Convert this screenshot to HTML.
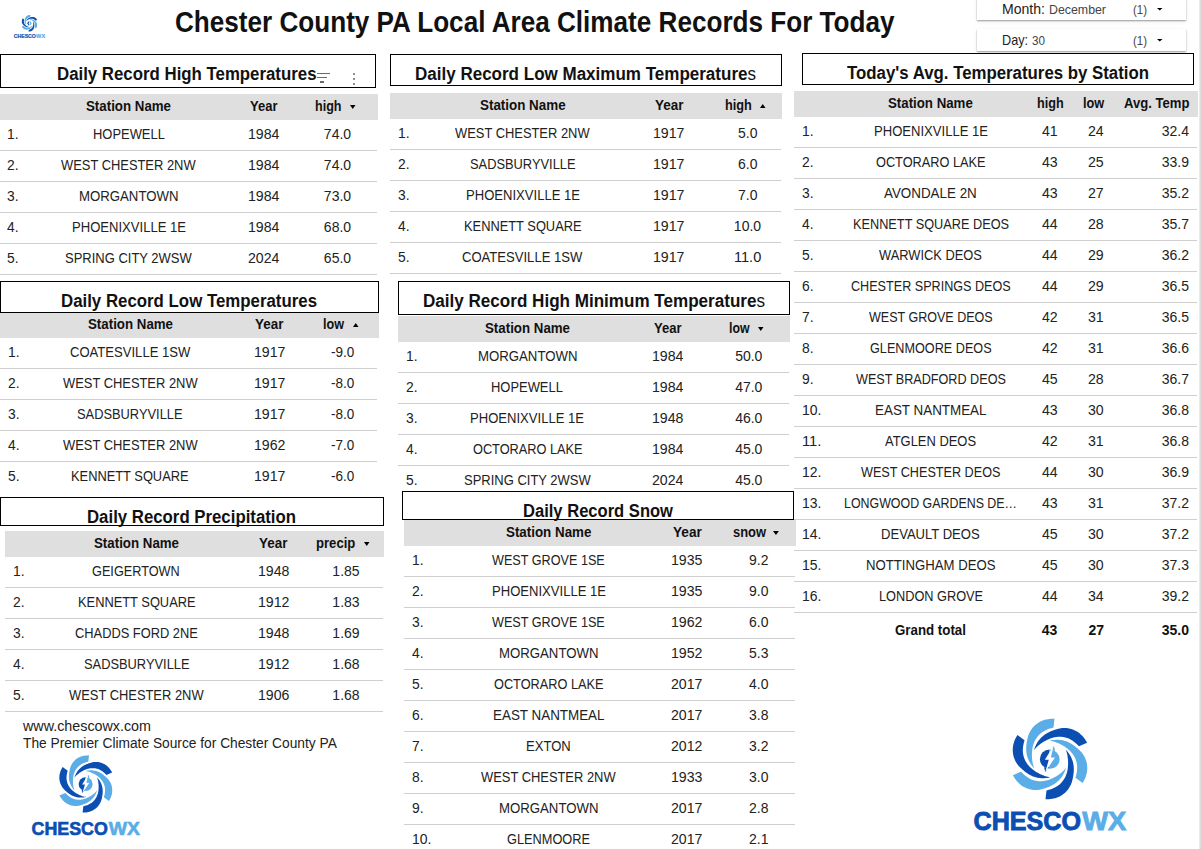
<!DOCTYPE html>
<html><head><meta charset="utf-8"><title>Chester County PA Local Area Climate Records</title>
<style>
html,body{margin:0;padding:0;background:#fff;}
body{width:1201px;height:849px;position:relative;overflow:hidden;font-family:"Liberation Sans",sans-serif;}
.t{position:absolute;white-space:nowrap;}
.r{position:absolute;}
svg.r{overflow:visible;}
</style></head><body>
<div class="t" style="left:175.00px;top:3.00px;font-size:29.00px;line-height:38px;font-weight:bold;color:#111;transform:scaleX(0.9002);transform-origin:0 0;">Chester County PA Local Area Climate Records For Today</div>
<div class="r" style="left:977px;top:-3px;width:209px;height:23px;background:#fff;box-shadow:0 1px 1.5px rgba(0,0,0,0.38),0 2px 6px rgba(0,0,0,0.06);"></div>
<div class="t" style="left:1001.50px;top:0.00px;font-size:14.50px;line-height:19px;color:#222;transform:scaleX(0.9700);transform-origin:0 0;">Month:</div>
<div class="t" style="left:1048.50px;top:2.00px;font-size:12.30px;line-height:16px;color:#444;transform:scaleX(1.0046);transform-origin:0 0;">December</div>
<div class="t" style="left:1133.00px;top:2.00px;font-size:12.50px;line-height:16px;color:#444;transform:scaleX(0.9164);transform-origin:0 0;">(1)</div>
<svg class="r" style="left:1157px;top:8px" width="5.5" height="2.5"><polygon points="0,0 5.5,0 2.75,2.5" fill="#000"/></svg>
<div class="r" style="left:977px;top:29px;width:209px;height:22px;background:#fff;box-shadow:0 1px 1.5px rgba(0,0,0,0.38),0 2px 6px rgba(0,0,0,0.06);"></div>
<div class="t" style="left:1001.50px;top:31.00px;font-size:14.50px;line-height:19px;color:#222;transform:scaleX(0.8721);transform-origin:0 0;">Day:</div>
<div class="t" style="left:1031.50px;top:33.00px;font-size:12.30px;line-height:16px;color:#444;transform:scaleX(0.9502);transform-origin:0 0;">30</div>
<div class="t" style="left:1133.00px;top:33.00px;font-size:12.50px;line-height:16px;color:#444;transform:scaleX(0.9164);transform-origin:0 0;">(1)</div>
<svg class="r" style="left:1157px;top:39px" width="5.5" height="2.5"><polygon points="0,0 5.5,0 2.75,2.5" fill="#000"/></svg>
<div class="r" style="left:0px;top:54px;width:376px;height:34px;border:1px solid #000;box-sizing:border-box;background:#fff;"></div>
<div class="r" style="left:-1px;top:94px;width:379px;height:26px;background:#dfdfdf;"></div>
<div class="t" style="left:86.00px;top:97.00px;font-size:14.00px;line-height:18px;font-weight:bold;color:#111;transform:scaleX(0.9501);transform-origin:0 0;">Station Name</div>
<div class="t" style="left:249.75px;top:97.00px;font-size:14.00px;line-height:18px;font-weight:bold;color:#111;transform:scaleX(0.9295);transform-origin:0 0;">Year</div>
<div class="t" style="left:315.00px;top:97.00px;font-size:14.00px;line-height:18px;font-weight:bold;color:#111;transform:scaleX(0.8970);transform-origin:0 0;">high</div>
<svg class="r" style="left:350px;top:105px" width="5.5" height="4"><polygon points="0,0 5.5,0 2.75,4" fill="#000"/></svg>
<div class="t" style="left:6.50px;top:125.00px;font-size:14.00px;line-height:18px;color:#222222;transform:scaleX(0.9889);transform-origin:0 0;">1.</div>
<div class="t" style="left:92.58px;top:125.00px;font-size:14.00px;line-height:18px;color:#222222;transform:scaleX(0.9234);transform-origin:0 0;">HOPEWELL</div>
<div class="t" style="left:247.78px;top:125.00px;font-size:14.00px;line-height:18px;color:#222222;transform:scaleX(1.0097);transform-origin:0 0;">1984</div>
<div class="t" style="left:323.87px;top:125.00px;font-size:14.00px;line-height:18px;color:#222222;">74.0</div>
<div class="r" style="left:0px;top:150px;width:377px;height:1px;background:#cfcfcf;"></div>
<div class="t" style="left:6.50px;top:156.00px;font-size:14.00px;line-height:18px;color:#222222;transform:scaleX(0.9889);transform-origin:0 0;">2.</div>
<div class="t" style="left:61.22px;top:156.00px;font-size:14.00px;line-height:18px;color:#222222;transform:scaleX(0.9218);transform-origin:0 0;">WEST CHESTER 2NW</div>
<div class="t" style="left:247.78px;top:156.00px;font-size:14.00px;line-height:18px;color:#222222;transform:scaleX(1.0097);transform-origin:0 0;">1984</div>
<div class="t" style="left:323.87px;top:156.00px;font-size:14.00px;line-height:18px;color:#222222;">74.0</div>
<div class="r" style="left:0px;top:181px;width:377px;height:1px;background:#cfcfcf;"></div>
<div class="t" style="left:6.50px;top:187.00px;font-size:14.00px;line-height:18px;color:#222222;transform:scaleX(0.9889);transform-origin:0 0;">3.</div>
<div class="t" style="left:78.75px;top:187.00px;font-size:14.00px;line-height:18px;color:#222222;transform:scaleX(0.9430);transform-origin:0 0;">MORGANTOWN</div>
<div class="t" style="left:247.78px;top:187.00px;font-size:14.00px;line-height:18px;color:#222222;transform:scaleX(1.0097);transform-origin:0 0;">1984</div>
<div class="t" style="left:323.87px;top:187.00px;font-size:14.00px;line-height:18px;color:#222222;">73.0</div>
<div class="r" style="left:0px;top:212px;width:377px;height:1px;background:#cfcfcf;"></div>
<div class="t" style="left:6.50px;top:218.00px;font-size:14.00px;line-height:18px;color:#222222;transform:scaleX(0.9889);transform-origin:0 0;">4.</div>
<div class="t" style="left:71.51px;top:218.00px;font-size:14.00px;line-height:18px;color:#222222;transform:scaleX(0.9330);transform-origin:0 0;">PHOENIXVILLE 1E</div>
<div class="t" style="left:247.78px;top:218.00px;font-size:14.00px;line-height:18px;color:#222222;transform:scaleX(1.0097);transform-origin:0 0;">1984</div>
<div class="t" style="left:323.87px;top:218.00px;font-size:14.00px;line-height:18px;color:#222222;">68.0</div>
<div class="r" style="left:0px;top:243px;width:377px;height:1px;background:#cfcfcf;"></div>
<div class="t" style="left:6.50px;top:249.00px;font-size:14.00px;line-height:18px;color:#222222;transform:scaleX(0.9889);transform-origin:0 0;">5.</div>
<div class="t" style="left:65.13px;top:249.00px;font-size:14.00px;line-height:18px;color:#222222;transform:scaleX(0.9275);transform-origin:0 0;">SPRING CITY 2WSW</div>
<div class="t" style="left:247.78px;top:249.00px;font-size:14.00px;line-height:18px;color:#222222;transform:scaleX(1.0097);transform-origin:0 0;">2024</div>
<div class="t" style="left:323.87px;top:249.00px;font-size:14.00px;line-height:18px;color:#222222;">65.0</div>
<div class="r" style="left:0px;top:274px;width:377px;height:1px;background:#cfcfcf;"></div>
<div class="t" style="left:57.25px;top:63.00px;font-size:17.50px;line-height:23px;font-weight:bold;color:#111;transform:scaleX(0.9610);transform-origin:0 0;">Daily Record High Temperatures</div>
<div class="r" style="left:317px;top:73.2px;width:12.8px;height:1.2px;background:#6a6a6a;"></div>
<div class="r" style="left:317px;top:77.2px;width:10.2px;height:1.2px;background:#6a6a6a;"></div>
<div class="r" style="left:320.3px;top:81.4px;width:3.5px;height:1.2px;background:#6a6a6a;"></div>
<div class="r" style="left:352.6px;top:72.6px;width:2.8px;height:2.8px;border-radius:50%;background:#6a6a6a"></div>
<div class="r" style="left:352.6px;top:77.6px;width:2.8px;height:2.8px;border-radius:50%;background:#6a6a6a"></div>
<div class="r" style="left:352.6px;top:82.6px;width:2.8px;height:2.8px;border-radius:50%;background:#6a6a6a"></div>
<div class="r" style="left:390px;top:54px;width:392px;height:32px;border:1px solid #000;box-sizing:border-box;background:#fff;"></div>
<div class="r" style="left:390px;top:93px;width:392px;height:26px;background:#dfdfdf;"></div>
<div class="t" style="left:479.70px;top:96.00px;font-size:14.00px;line-height:18px;font-weight:bold;color:#111;transform:scaleX(0.9568);transform-origin:0 0;">Station Name</div>
<div class="t" style="left:654.95px;top:96.00px;font-size:14.00px;line-height:18px;font-weight:bold;color:#111;transform:scaleX(0.9633);transform-origin:0 0;">Year</div>
<div class="t" style="left:724.60px;top:96.00px;font-size:14.00px;line-height:18px;font-weight:bold;color:#111;transform:scaleX(0.9105);transform-origin:0 0;">high</div>
<svg class="r" style="left:759.5px;top:104px" width="5.5" height="4"><polygon points="0,4 2.75,0 5.5,4" fill="#000"/></svg>
<div class="t" style="left:397.50px;top:124.00px;font-size:14.00px;line-height:18px;color:#222222;transform:scaleX(0.9889);transform-origin:0 0;">1.</div>
<div class="t" style="left:455.22px;top:124.00px;font-size:14.00px;line-height:18px;color:#222222;transform:scaleX(0.9218);transform-origin:0 0;">WEST CHESTER 2NW</div>
<div class="t" style="left:653.48px;top:124.00px;font-size:14.00px;line-height:18px;color:#222222;transform:scaleX(1.0097);transform-origin:0 0;">1917</div>
<div class="t" style="left:737.80px;top:124.00px;font-size:14.00px;line-height:18px;color:#222222;transform:scaleX(0.9972);transform-origin:0 0;">5.0</div>
<div class="r" style="left:390px;top:149px;width:391px;height:1px;background:#cfcfcf;"></div>
<div class="t" style="left:397.50px;top:155.00px;font-size:14.00px;line-height:18px;color:#222222;transform:scaleX(0.9889);transform-origin:0 0;">2.</div>
<div class="t" style="left:469.74px;top:155.00px;font-size:14.00px;line-height:18px;color:#222222;transform:scaleX(0.9184);transform-origin:0 0;">SADSBURYVILLE</div>
<div class="t" style="left:653.48px;top:155.00px;font-size:14.00px;line-height:18px;color:#222222;transform:scaleX(1.0097);transform-origin:0 0;">1917</div>
<div class="t" style="left:737.80px;top:155.00px;font-size:14.00px;line-height:18px;color:#222222;transform:scaleX(0.9972);transform-origin:0 0;">6.0</div>
<div class="r" style="left:390px;top:180px;width:391px;height:1px;background:#cfcfcf;"></div>
<div class="t" style="left:397.50px;top:186.00px;font-size:14.00px;line-height:18px;color:#222222;transform:scaleX(0.9889);transform-origin:0 0;">3.</div>
<div class="t" style="left:465.51px;top:186.00px;font-size:14.00px;line-height:18px;color:#222222;transform:scaleX(0.9330);transform-origin:0 0;">PHOENIXVILLE 1E</div>
<div class="t" style="left:653.48px;top:186.00px;font-size:14.00px;line-height:18px;color:#222222;transform:scaleX(1.0097);transform-origin:0 0;">1917</div>
<div class="t" style="left:737.80px;top:186.00px;font-size:14.00px;line-height:18px;color:#222222;transform:scaleX(0.9972);transform-origin:0 0;">7.0</div>
<div class="r" style="left:390px;top:211px;width:391px;height:1px;background:#cfcfcf;"></div>
<div class="t" style="left:397.50px;top:217.00px;font-size:14.00px;line-height:18px;color:#222222;transform:scaleX(0.9889);transform-origin:0 0;">4.</div>
<div class="t" style="left:463.72px;top:217.00px;font-size:14.00px;line-height:18px;color:#222222;transform:scaleX(0.9178);transform-origin:0 0;">KENNETT SQUARE</div>
<div class="t" style="left:653.48px;top:217.00px;font-size:14.00px;line-height:18px;color:#222222;transform:scaleX(1.0097);transform-origin:0 0;">1917</div>
<div class="t" style="left:733.87px;top:217.00px;font-size:14.00px;line-height:18px;color:#222222;">10.0</div>
<div class="r" style="left:390px;top:242px;width:391px;height:1px;background:#cfcfcf;"></div>
<div class="t" style="left:397.50px;top:248.00px;font-size:14.00px;line-height:18px;color:#222222;transform:scaleX(0.9889);transform-origin:0 0;">5.</div>
<div class="t" style="left:462.34px;top:248.00px;font-size:14.00px;line-height:18px;color:#222222;transform:scaleX(0.9335);transform-origin:0 0;">COATESVILLE 1SW</div>
<div class="t" style="left:653.48px;top:248.00px;font-size:14.00px;line-height:18px;color:#222222;transform:scaleX(1.0097);transform-origin:0 0;">1917</div>
<div class="t" style="left:733.87px;top:248.00px;font-size:14.00px;line-height:18px;color:#222222;transform:scaleX(1.0404);transform-origin:0 0;">11.0</div>
<div class="r" style="left:390px;top:273px;width:391px;height:1px;background:#cfcfcf;"></div>
<div class="t" style="left:415.00px;top:63.00px;font-size:17.50px;line-height:23px;color:#111;transform:scaleX(0.9722);transform-origin:0 0"><b>Daily Record Low Maximum Temperature</b>s</div>
<div class="r" style="left:0px;top:281px;width:379px;height:32px;border:1px solid #000;box-sizing:border-box;background:#fff;"></div>
<div class="r" style="left:0px;top:313px;width:379px;height:25px;background:#dfdfdf;"></div>
<div class="t" style="left:87.50px;top:315.00px;font-size:14.00px;line-height:18px;font-weight:bold;color:#111;transform:scaleX(0.9501);transform-origin:0 0;">Station Name</div>
<div class="t" style="left:255.40px;top:315.00px;font-size:14.00px;line-height:18px;font-weight:bold;color:#111;transform:scaleX(0.9599);transform-origin:0 0;">Year</div>
<div class="t" style="left:323.00px;top:315.00px;font-size:14.00px;line-height:18px;font-weight:bold;color:#111;transform:scaleX(0.9001);transform-origin:0 0;">low</div>
<svg class="r" style="left:353px;top:323px" width="5.5" height="4"><polygon points="0,4 2.75,0 5.5,4" fill="#000"/></svg>
<div class="t" style="left:7.50px;top:343.00px;font-size:14.00px;line-height:18px;color:#222222;transform:scaleX(0.9889);transform-origin:0 0;">1.</div>
<div class="t" style="left:69.84px;top:343.00px;font-size:14.00px;line-height:18px;color:#222222;transform:scaleX(0.9335);transform-origin:0 0;">COATESVILLE 1SW</div>
<div class="t" style="left:253.88px;top:343.00px;font-size:14.00px;line-height:18px;color:#222222;transform:scaleX(1.0097);transform-origin:0 0;">1917</div>
<div class="t" style="left:331.37px;top:343.00px;font-size:14.00px;line-height:18px;color:#222222;transform:scaleX(0.9646);transform-origin:0 0;">-9.0</div>
<div class="r" style="left:0px;top:368px;width:377px;height:1px;background:#cfcfcf;"></div>
<div class="t" style="left:7.50px;top:374.00px;font-size:14.00px;line-height:18px;color:#222222;transform:scaleX(0.9889);transform-origin:0 0;">2.</div>
<div class="t" style="left:62.72px;top:374.00px;font-size:14.00px;line-height:18px;color:#222222;transform:scaleX(0.9218);transform-origin:0 0;">WEST CHESTER 2NW</div>
<div class="t" style="left:253.88px;top:374.00px;font-size:14.00px;line-height:18px;color:#222222;transform:scaleX(1.0097);transform-origin:0 0;">1917</div>
<div class="t" style="left:331.37px;top:374.00px;font-size:14.00px;line-height:18px;color:#222222;transform:scaleX(0.9646);transform-origin:0 0;">-8.0</div>
<div class="r" style="left:0px;top:399px;width:377px;height:1px;background:#cfcfcf;"></div>
<div class="t" style="left:7.50px;top:405.00px;font-size:14.00px;line-height:18px;color:#222222;transform:scaleX(0.9889);transform-origin:0 0;">3.</div>
<div class="t" style="left:77.24px;top:405.00px;font-size:14.00px;line-height:18px;color:#222222;transform:scaleX(0.9184);transform-origin:0 0;">SADSBURYVILLE</div>
<div class="t" style="left:253.88px;top:405.00px;font-size:14.00px;line-height:18px;color:#222222;transform:scaleX(1.0097);transform-origin:0 0;">1917</div>
<div class="t" style="left:331.37px;top:405.00px;font-size:14.00px;line-height:18px;color:#222222;transform:scaleX(0.9646);transform-origin:0 0;">-8.0</div>
<div class="r" style="left:0px;top:430px;width:377px;height:1px;background:#cfcfcf;"></div>
<div class="t" style="left:7.50px;top:436.00px;font-size:14.00px;line-height:18px;color:#222222;transform:scaleX(0.9889);transform-origin:0 0;">4.</div>
<div class="t" style="left:62.72px;top:436.00px;font-size:14.00px;line-height:18px;color:#222222;transform:scaleX(0.9218);transform-origin:0 0;">WEST CHESTER 2NW</div>
<div class="t" style="left:253.88px;top:436.00px;font-size:14.00px;line-height:18px;color:#222222;transform:scaleX(1.0097);transform-origin:0 0;">1962</div>
<div class="t" style="left:331.37px;top:436.00px;font-size:14.00px;line-height:18px;color:#222222;transform:scaleX(0.9646);transform-origin:0 0;">-7.0</div>
<div class="r" style="left:0px;top:461px;width:377px;height:1px;background:#cfcfcf;"></div>
<div class="t" style="left:7.50px;top:467.00px;font-size:14.00px;line-height:18px;color:#222222;transform:scaleX(0.9889);transform-origin:0 0;">5.</div>
<div class="t" style="left:71.22px;top:467.00px;font-size:14.00px;line-height:18px;color:#222222;transform:scaleX(0.9178);transform-origin:0 0;">KENNETT SQUARE</div>
<div class="t" style="left:253.88px;top:467.00px;font-size:14.00px;line-height:18px;color:#222222;transform:scaleX(1.0097);transform-origin:0 0;">1917</div>
<div class="t" style="left:331.37px;top:467.00px;font-size:14.00px;line-height:18px;color:#222222;transform:scaleX(0.9646);transform-origin:0 0;">-6.0</div>
<div class="t" style="left:61.00px;top:290.00px;font-size:17.50px;line-height:23px;font-weight:bold;color:#111;transform:scaleX(0.9619);transform-origin:0 0;">Daily Record Low Temperatures</div>
<div class="r" style="left:398px;top:281px;width:392px;height:34px;border:1px solid #000;box-sizing:border-box;background:#fff;"></div>
<div class="r" style="left:398px;top:316px;width:392px;height:26px;background:#dfdfdf;"></div>
<div class="t" style="left:484.90px;top:319.00px;font-size:14.00px;line-height:18px;font-weight:bold;color:#111;transform:scaleX(0.9501);transform-origin:0 0;">Station Name</div>
<div class="t" style="left:653.60px;top:319.00px;font-size:14.00px;line-height:18px;font-weight:bold;color:#111;transform:scaleX(0.9329);transform-origin:0 0;">Year</div>
<div class="t" style="left:728.70px;top:319.00px;font-size:14.00px;line-height:18px;font-weight:bold;color:#111;transform:scaleX(0.8786);transform-origin:0 0;">low</div>
<svg class="r" style="left:758px;top:327px" width="5.5" height="4"><polygon points="0,0 5.5,0 2.75,4" fill="#000"/></svg>
<div class="t" style="left:405.50px;top:347.00px;font-size:14.00px;line-height:18px;color:#222222;transform:scaleX(0.9889);transform-origin:0 0;">1.</div>
<div class="t" style="left:477.65px;top:347.00px;font-size:14.00px;line-height:18px;color:#222222;transform:scaleX(0.9430);transform-origin:0 0;">MORGANTOWN</div>
<div class="t" style="left:651.78px;top:347.00px;font-size:14.00px;line-height:18px;color:#222222;transform:scaleX(1.0097);transform-origin:0 0;">1984</div>
<div class="t" style="left:735.17px;top:347.00px;font-size:14.00px;line-height:18px;color:#222222;">50.0</div>
<div class="r" style="left:398px;top:372px;width:391px;height:1px;background:#cfcfcf;"></div>
<div class="t" style="left:405.50px;top:378.00px;font-size:14.00px;line-height:18px;color:#222222;transform:scaleX(0.9889);transform-origin:0 0;">2.</div>
<div class="t" style="left:491.48px;top:378.00px;font-size:14.00px;line-height:18px;color:#222222;transform:scaleX(0.9234);transform-origin:0 0;">HOPEWELL</div>
<div class="t" style="left:651.78px;top:378.00px;font-size:14.00px;line-height:18px;color:#222222;transform:scaleX(1.0097);transform-origin:0 0;">1984</div>
<div class="t" style="left:735.17px;top:378.00px;font-size:14.00px;line-height:18px;color:#222222;">47.0</div>
<div class="r" style="left:398px;top:403px;width:391px;height:1px;background:#cfcfcf;"></div>
<div class="t" style="left:405.50px;top:409.00px;font-size:14.00px;line-height:18px;color:#222222;transform:scaleX(0.9889);transform-origin:0 0;">3.</div>
<div class="t" style="left:470.41px;top:409.00px;font-size:14.00px;line-height:18px;color:#222222;transform:scaleX(0.9330);transform-origin:0 0;">PHOENIXVILLE 1E</div>
<div class="t" style="left:651.78px;top:409.00px;font-size:14.00px;line-height:18px;color:#222222;transform:scaleX(1.0097);transform-origin:0 0;">1948</div>
<div class="t" style="left:735.17px;top:409.00px;font-size:14.00px;line-height:18px;color:#222222;">46.0</div>
<div class="r" style="left:398px;top:434px;width:391px;height:1px;background:#cfcfcf;"></div>
<div class="t" style="left:405.50px;top:440.00px;font-size:14.00px;line-height:18px;color:#222222;transform:scaleX(0.9889);transform-origin:0 0;">4.</div>
<div class="t" style="left:472.61px;top:440.00px;font-size:14.00px;line-height:18px;color:#222222;transform:scaleX(0.9107);transform-origin:0 0;">OCTORARO LAKE</div>
<div class="t" style="left:651.78px;top:440.00px;font-size:14.00px;line-height:18px;color:#222222;transform:scaleX(1.0097);transform-origin:0 0;">1984</div>
<div class="t" style="left:735.17px;top:440.00px;font-size:14.00px;line-height:18px;color:#222222;">45.0</div>
<div class="r" style="left:398px;top:465px;width:391px;height:1px;background:#cfcfcf;"></div>
<div class="t" style="left:405.50px;top:471.00px;font-size:14.00px;line-height:18px;color:#222222;transform:scaleX(0.9889);transform-origin:0 0;">5.</div>
<div class="t" style="left:464.03px;top:471.00px;font-size:14.00px;line-height:18px;color:#222222;transform:scaleX(0.9275);transform-origin:0 0;">SPRING CITY 2WSW</div>
<div class="t" style="left:651.78px;top:471.00px;font-size:14.00px;line-height:18px;color:#222222;transform:scaleX(1.0097);transform-origin:0 0;">2024</div>
<div class="t" style="left:735.17px;top:471.00px;font-size:14.00px;line-height:18px;color:#222222;">45.0</div>
<div class="t" style="left:422.50px;top:290.00px;font-size:17.50px;line-height:23px;color:#111;transform:scaleX(0.9752);transform-origin:0 0"><b>Daily Record High Minimum Temperature</b>s</div>
<div class="r" style="left:0px;top:497px;width:384px;height:29px;border:1px solid #000;box-sizing:border-box;background:#fff;"></div>
<div class="r" style="left:5px;top:531px;width:379px;height:26px;background:#dfdfdf;"></div>
<div class="t" style="left:93.90px;top:534.00px;font-size:14.00px;line-height:18px;font-weight:bold;color:#111;transform:scaleX(0.9501);transform-origin:0 0;">Station Name</div>
<div class="t" style="left:259.00px;top:534.00px;font-size:14.00px;line-height:18px;font-weight:bold;color:#111;transform:scaleX(0.9599);transform-origin:0 0;">Year</div>
<div class="t" style="left:316.40px;top:534.00px;font-size:14.00px;line-height:18px;font-weight:bold;color:#111;transform:scaleX(0.9354);transform-origin:0 0;">precip</div>
<svg class="r" style="left:363.7px;top:542px" width="5.5" height="4"><polygon points="0,0 5.5,0 2.75,4" fill="#000"/></svg>
<div class="t" style="left:12.50px;top:562.00px;font-size:14.00px;line-height:18px;color:#222222;transform:scaleX(0.9889);transform-origin:0 0;">1.</div>
<div class="t" style="left:92.40px;top:562.00px;font-size:14.00px;line-height:18px;color:#222222;transform:scaleX(0.9078);transform-origin:0 0;">GEIGERTOWN</div>
<div class="t" style="left:257.78px;top:562.00px;font-size:14.00px;line-height:18px;color:#222222;transform:scaleX(1.0097);transform-origin:0 0;">1948</div>
<div class="t" style="left:332.37px;top:562.00px;font-size:14.00px;line-height:18px;color:#222222;">1.85</div>
<div class="r" style="left:5px;top:587px;width:378px;height:1px;background:#cfcfcf;"></div>
<div class="t" style="left:12.50px;top:593.00px;font-size:14.00px;line-height:18px;color:#222222;transform:scaleX(0.9889);transform-origin:0 0;">2.</div>
<div class="t" style="left:77.52px;top:593.00px;font-size:14.00px;line-height:18px;color:#222222;transform:scaleX(0.9178);transform-origin:0 0;">KENNETT SQUARE</div>
<div class="t" style="left:257.78px;top:593.00px;font-size:14.00px;line-height:18px;color:#222222;transform:scaleX(1.0097);transform-origin:0 0;">1912</div>
<div class="t" style="left:332.37px;top:593.00px;font-size:14.00px;line-height:18px;color:#222222;">1.83</div>
<div class="r" style="left:5px;top:618px;width:378px;height:1px;background:#cfcfcf;"></div>
<div class="t" style="left:12.50px;top:624.00px;font-size:14.00px;line-height:18px;color:#222222;transform:scaleX(0.9889);transform-origin:0 0;">3.</div>
<div class="t" style="left:74.90px;top:624.00px;font-size:14.00px;line-height:18px;color:#222222;transform:scaleX(0.9179);transform-origin:0 0;">CHADDS FORD 2NE</div>
<div class="t" style="left:257.78px;top:624.00px;font-size:14.00px;line-height:18px;color:#222222;transform:scaleX(1.0097);transform-origin:0 0;">1948</div>
<div class="t" style="left:332.37px;top:624.00px;font-size:14.00px;line-height:18px;color:#222222;">1.69</div>
<div class="r" style="left:5px;top:649px;width:378px;height:1px;background:#cfcfcf;"></div>
<div class="t" style="left:12.50px;top:655.00px;font-size:14.00px;line-height:18px;color:#222222;transform:scaleX(0.9889);transform-origin:0 0;">4.</div>
<div class="t" style="left:83.54px;top:655.00px;font-size:14.00px;line-height:18px;color:#222222;transform:scaleX(0.9184);transform-origin:0 0;">SADSBURYVILLE</div>
<div class="t" style="left:257.78px;top:655.00px;font-size:14.00px;line-height:18px;color:#222222;transform:scaleX(1.0097);transform-origin:0 0;">1912</div>
<div class="t" style="left:332.37px;top:655.00px;font-size:14.00px;line-height:18px;color:#222222;">1.68</div>
<div class="r" style="left:5px;top:680px;width:378px;height:1px;background:#cfcfcf;"></div>
<div class="t" style="left:12.50px;top:686.00px;font-size:14.00px;line-height:18px;color:#222222;transform:scaleX(0.9889);transform-origin:0 0;">5.</div>
<div class="t" style="left:69.02px;top:686.00px;font-size:14.00px;line-height:18px;color:#222222;transform:scaleX(0.9218);transform-origin:0 0;">WEST CHESTER 2NW</div>
<div class="t" style="left:257.78px;top:686.00px;font-size:14.00px;line-height:18px;color:#222222;transform:scaleX(1.0097);transform-origin:0 0;">1906</div>
<div class="t" style="left:332.37px;top:686.00px;font-size:14.00px;line-height:18px;color:#222222;">1.68</div>
<div class="r" style="left:5px;top:711px;width:378px;height:1px;background:#cfcfcf;"></div>
<div class="t" style="left:86.50px;top:506.00px;font-size:17.50px;line-height:23px;font-weight:bold;color:#111;transform:scaleX(0.9594);transform-origin:0 0;">Daily Record Precipitation</div>
<div class="r" style="left:402px;top:491px;width:392px;height:29px;border:1px solid #000;box-sizing:border-box;background:#fff;"></div>
<div class="r" style="left:404px;top:520px;width:392px;height:26px;background:#dfdfdf;"></div>
<div class="t" style="left:505.70px;top:523.00px;font-size:14.00px;line-height:18px;font-weight:bold;color:#111;transform:scaleX(0.9546);transform-origin:0 0;">Station Name</div>
<div class="t" style="left:672.60px;top:523.00px;font-size:14.00px;line-height:18px;font-weight:bold;color:#111;transform:scaleX(0.9734);transform-origin:0 0;">Year</div>
<div class="t" style="left:732.80px;top:523.00px;font-size:14.00px;line-height:18px;font-weight:bold;color:#111;transform:scaleX(0.9223);transform-origin:0 0;">snow</div>
<svg class="r" style="left:773.4px;top:531px" width="5.9" height="4"><polygon points="0,0 5.9,0 2.95,4" fill="#000"/></svg>
<div class="t" style="left:411.50px;top:551.00px;font-size:14.00px;line-height:18px;color:#222222;transform:scaleX(0.9889);transform-origin:0 0;">1.</div>
<div class="t" style="left:492.11px;top:551.00px;font-size:14.00px;line-height:18px;color:#222222;transform:scaleX(0.9023);transform-origin:0 0;">WEST GROVE 1SE</div>
<div class="t" style="left:671.48px;top:551.00px;font-size:14.00px;line-height:18px;color:#222222;transform:scaleX(1.0097);transform-origin:0 0;">1935</div>
<div class="t" style="left:749.10px;top:551.00px;font-size:14.00px;line-height:18px;color:#222222;transform:scaleX(0.9972);transform-origin:0 0;">9.2</div>
<div class="r" style="left:404px;top:576px;width:391px;height:1px;background:#cfcfcf;"></div>
<div class="t" style="left:411.50px;top:582.00px;font-size:14.00px;line-height:18px;color:#222222;transform:scaleX(0.9889);transform-origin:0 0;">2.</div>
<div class="t" style="left:491.51px;top:582.00px;font-size:14.00px;line-height:18px;color:#222222;transform:scaleX(0.9330);transform-origin:0 0;">PHOENIXVILLE 1E</div>
<div class="t" style="left:671.48px;top:582.00px;font-size:14.00px;line-height:18px;color:#222222;transform:scaleX(1.0097);transform-origin:0 0;">1935</div>
<div class="t" style="left:749.10px;top:582.00px;font-size:14.00px;line-height:18px;color:#222222;transform:scaleX(0.9972);transform-origin:0 0;">9.0</div>
<div class="r" style="left:404px;top:607px;width:391px;height:1px;background:#cfcfcf;"></div>
<div class="t" style="left:411.50px;top:613.00px;font-size:14.00px;line-height:18px;color:#222222;transform:scaleX(0.9889);transform-origin:0 0;">3.</div>
<div class="t" style="left:492.11px;top:613.00px;font-size:14.00px;line-height:18px;color:#222222;transform:scaleX(0.9023);transform-origin:0 0;">WEST GROVE 1SE</div>
<div class="t" style="left:671.48px;top:613.00px;font-size:14.00px;line-height:18px;color:#222222;transform:scaleX(1.0097);transform-origin:0 0;">1962</div>
<div class="t" style="left:749.10px;top:613.00px;font-size:14.00px;line-height:18px;color:#222222;transform:scaleX(0.9972);transform-origin:0 0;">6.0</div>
<div class="r" style="left:404px;top:638px;width:391px;height:1px;background:#cfcfcf;"></div>
<div class="t" style="left:411.50px;top:644.00px;font-size:14.00px;line-height:18px;color:#222222;transform:scaleX(0.9889);transform-origin:0 0;">4.</div>
<div class="t" style="left:498.75px;top:644.00px;font-size:14.00px;line-height:18px;color:#222222;transform:scaleX(0.9430);transform-origin:0 0;">MORGANTOWN</div>
<div class="t" style="left:671.48px;top:644.00px;font-size:14.00px;line-height:18px;color:#222222;transform:scaleX(1.0097);transform-origin:0 0;">1952</div>
<div class="t" style="left:749.10px;top:644.00px;font-size:14.00px;line-height:18px;color:#222222;transform:scaleX(0.9972);transform-origin:0 0;">5.3</div>
<div class="r" style="left:404px;top:669px;width:391px;height:1px;background:#cfcfcf;"></div>
<div class="t" style="left:411.50px;top:675.00px;font-size:14.00px;line-height:18px;color:#222222;transform:scaleX(0.9889);transform-origin:0 0;">5.</div>
<div class="t" style="left:493.71px;top:675.00px;font-size:14.00px;line-height:18px;color:#222222;transform:scaleX(0.9107);transform-origin:0 0;">OCTORARO LAKE</div>
<div class="t" style="left:671.48px;top:675.00px;font-size:14.00px;line-height:18px;color:#222222;transform:scaleX(1.0097);transform-origin:0 0;">2017</div>
<div class="t" style="left:749.10px;top:675.00px;font-size:14.00px;line-height:18px;color:#222222;transform:scaleX(0.9972);transform-origin:0 0;">4.0</div>
<div class="r" style="left:404px;top:700px;width:391px;height:1px;background:#cfcfcf;"></div>
<div class="t" style="left:411.50px;top:706.00px;font-size:14.00px;line-height:18px;color:#222222;transform:scaleX(0.9889);transform-origin:0 0;">6.</div>
<div class="t" style="left:492.74px;top:706.00px;font-size:14.00px;line-height:18px;color:#222222;transform:scaleX(0.9578);transform-origin:0 0;">EAST NANTMEAL</div>
<div class="t" style="left:671.48px;top:706.00px;font-size:14.00px;line-height:18px;color:#222222;transform:scaleX(1.0097);transform-origin:0 0;">2017</div>
<div class="t" style="left:749.10px;top:706.00px;font-size:14.00px;line-height:18px;color:#222222;transform:scaleX(0.9972);transform-origin:0 0;">3.8</div>
<div class="r" style="left:404px;top:731px;width:391px;height:1px;background:#cfcfcf;"></div>
<div class="t" style="left:411.50px;top:737.00px;font-size:14.00px;line-height:18px;color:#222222;transform:scaleX(0.9889);transform-origin:0 0;">7.</div>
<div class="t" style="left:526.15px;top:737.00px;font-size:14.00px;line-height:18px;color:#222222;transform:scaleX(0.9316);transform-origin:0 0;">EXTON</div>
<div class="t" style="left:671.48px;top:737.00px;font-size:14.00px;line-height:18px;color:#222222;transform:scaleX(1.0097);transform-origin:0 0;">2012</div>
<div class="t" style="left:749.10px;top:737.00px;font-size:14.00px;line-height:18px;color:#222222;transform:scaleX(0.9972);transform-origin:0 0;">3.2</div>
<div class="r" style="left:404px;top:762px;width:391px;height:1px;background:#cfcfcf;"></div>
<div class="t" style="left:411.50px;top:768.00px;font-size:14.00px;line-height:18px;color:#222222;transform:scaleX(0.9889);transform-origin:0 0;">8.</div>
<div class="t" style="left:481.22px;top:768.00px;font-size:14.00px;line-height:18px;color:#222222;transform:scaleX(0.9218);transform-origin:0 0;">WEST CHESTER 2NW</div>
<div class="t" style="left:671.48px;top:768.00px;font-size:14.00px;line-height:18px;color:#222222;transform:scaleX(1.0097);transform-origin:0 0;">1933</div>
<div class="t" style="left:749.10px;top:768.00px;font-size:14.00px;line-height:18px;color:#222222;transform:scaleX(0.9972);transform-origin:0 0;">3.0</div>
<div class="r" style="left:404px;top:793px;width:391px;height:1px;background:#cfcfcf;"></div>
<div class="t" style="left:411.50px;top:799.00px;font-size:14.00px;line-height:18px;color:#222222;transform:scaleX(0.9889);transform-origin:0 0;">9.</div>
<div class="t" style="left:498.75px;top:799.00px;font-size:14.00px;line-height:18px;color:#222222;transform:scaleX(0.9430);transform-origin:0 0;">MORGANTOWN</div>
<div class="t" style="left:671.48px;top:799.00px;font-size:14.00px;line-height:18px;color:#222222;transform:scaleX(1.0097);transform-origin:0 0;">2017</div>
<div class="t" style="left:749.10px;top:799.00px;font-size:14.00px;line-height:18px;color:#222222;transform:scaleX(0.9972);transform-origin:0 0;">2.8</div>
<div class="r" style="left:404px;top:824px;width:391px;height:1px;background:#cfcfcf;"></div>
<div class="t" style="left:411.50px;top:830.00px;font-size:14.00px;line-height:18px;color:#222222;transform:scaleX(0.9972);transform-origin:0 0;">10.</div>
<div class="t" style="left:506.97px;top:830.00px;font-size:14.00px;line-height:18px;color:#222222;transform:scaleX(0.9126);transform-origin:0 0;">GLENMOORE</div>
<div class="t" style="left:671.48px;top:830.00px;font-size:14.00px;line-height:18px;color:#222222;transform:scaleX(1.0097);transform-origin:0 0;">2017</div>
<div class="t" style="left:749.10px;top:830.00px;font-size:14.00px;line-height:18px;color:#222222;transform:scaleX(0.9972);transform-origin:0 0;">2.1</div>
<div class="r" style="left:404px;top:855px;width:391px;height:1px;background:#cfcfcf;"></div>
<div class="t" style="left:522.60px;top:500.00px;font-size:17.50px;line-height:23px;font-weight:bold;color:#111;transform:scaleX(0.9463);transform-origin:0 0;">Daily Record Snow</div>
<div class="r" style="left:802px;top:53px;width:392px;height:32px;border:1px solid #000;box-sizing:border-box;background:#fff;"></div>
<div class="r" style="left:794px;top:91px;width:404px;height:26px;background:#dfdfdf;"></div>
<div class="t" style="left:888.20px;top:94.00px;font-size:14.00px;line-height:18px;font-weight:bold;color:#111;transform:scaleX(0.9479);transform-origin:0 0;">Station Name</div>
<div class="t" style="left:1036.65px;top:94.00px;font-size:14.00px;line-height:18px;font-weight:bold;color:#111;transform:scaleX(0.9037);transform-origin:0 0;">high</div>
<div class="t" style="left:1082.50px;top:94.00px;font-size:14.00px;line-height:18px;font-weight:bold;color:#111;transform:scaleX(0.9087);transform-origin:0 0;">low</div>
<div class="t" style="left:1123.50px;top:94.00px;font-size:14.00px;line-height:18px;font-weight:bold;color:#111;transform:scaleX(0.9356);transform-origin:0 0;">Avg. Temp</div>
<div class="t" style="left:801.50px;top:122.00px;font-size:14.00px;line-height:18px;color:#222222;transform:scaleX(0.9889);transform-origin:0 0;">1.</div>
<div class="t" style="left:873.81px;top:122.00px;font-size:14.00px;line-height:18px;color:#222222;transform:scaleX(0.9330);transform-origin:0 0;">PHOENIXVILLE 1E</div>
<div class="t" style="left:1041.64px;top:122.00px;font-size:14.00px;line-height:18px;color:#222222;transform:scaleX(1.0097);transform-origin:0 0;">41</div>
<div class="t" style="left:1088.44px;top:122.00px;font-size:14.00px;line-height:18px;color:#222222;transform:scaleX(1.0097);transform-origin:0 0;">24</div>
<div class="t" style="left:1161.73px;top:122.00px;font-size:14.00px;line-height:18px;color:#222222;">32.4</div>
<div class="r" style="left:794px;top:147px;width:403px;height:1px;background:#cfcfcf;"></div>
<div class="t" style="left:801.50px;top:153.00px;font-size:14.00px;line-height:18px;color:#222222;transform:scaleX(0.9889);transform-origin:0 0;">2.</div>
<div class="t" style="left:876.01px;top:153.00px;font-size:14.00px;line-height:18px;color:#222222;transform:scaleX(0.9107);transform-origin:0 0;">OCTORARO LAKE</div>
<div class="t" style="left:1041.64px;top:153.00px;font-size:14.00px;line-height:18px;color:#222222;transform:scaleX(1.0097);transform-origin:0 0;">43</div>
<div class="t" style="left:1088.44px;top:153.00px;font-size:14.00px;line-height:18px;color:#222222;transform:scaleX(1.0097);transform-origin:0 0;">25</div>
<div class="t" style="left:1161.73px;top:153.00px;font-size:14.00px;line-height:18px;color:#222222;">33.9</div>
<div class="r" style="left:794px;top:178px;width:403px;height:1px;background:#cfcfcf;"></div>
<div class="t" style="left:801.50px;top:184.00px;font-size:14.00px;line-height:18px;color:#222222;transform:scaleX(0.9889);transform-origin:0 0;">3.</div>
<div class="t" style="left:884.42px;top:184.00px;font-size:14.00px;line-height:18px;color:#222222;transform:scaleX(0.9563);transform-origin:0 0;">AVONDALE 2N</div>
<div class="t" style="left:1041.64px;top:184.00px;font-size:14.00px;line-height:18px;color:#222222;transform:scaleX(1.0097);transform-origin:0 0;">43</div>
<div class="t" style="left:1088.44px;top:184.00px;font-size:14.00px;line-height:18px;color:#222222;transform:scaleX(1.0097);transform-origin:0 0;">27</div>
<div class="t" style="left:1161.73px;top:184.00px;font-size:14.00px;line-height:18px;color:#222222;">35.2</div>
<div class="r" style="left:794px;top:209px;width:403px;height:1px;background:#cfcfcf;"></div>
<div class="t" style="left:801.50px;top:215.00px;font-size:14.00px;line-height:18px;color:#222222;transform:scaleX(0.9889);transform-origin:0 0;">4.</div>
<div class="t" style="left:852.74px;top:215.00px;font-size:14.00px;line-height:18px;color:#222222;transform:scaleX(0.9094);transform-origin:0 0;">KENNETT SQUARE DEOS</div>
<div class="t" style="left:1041.64px;top:215.00px;font-size:14.00px;line-height:18px;color:#222222;transform:scaleX(1.0097);transform-origin:0 0;">44</div>
<div class="t" style="left:1088.44px;top:215.00px;font-size:14.00px;line-height:18px;color:#222222;transform:scaleX(1.0097);transform-origin:0 0;">28</div>
<div class="t" style="left:1161.73px;top:215.00px;font-size:14.00px;line-height:18px;color:#222222;">35.7</div>
<div class="r" style="left:794px;top:240px;width:403px;height:1px;background:#cfcfcf;"></div>
<div class="t" style="left:801.50px;top:246.00px;font-size:14.00px;line-height:18px;color:#222222;transform:scaleX(0.9889);transform-origin:0 0;">5.</div>
<div class="t" style="left:879.38px;top:246.00px;font-size:14.00px;line-height:18px;color:#222222;transform:scaleX(0.9182);transform-origin:0 0;">WARWICK DEOS</div>
<div class="t" style="left:1041.64px;top:246.00px;font-size:14.00px;line-height:18px;color:#222222;transform:scaleX(1.0097);transform-origin:0 0;">44</div>
<div class="t" style="left:1088.44px;top:246.00px;font-size:14.00px;line-height:18px;color:#222222;transform:scaleX(1.0097);transform-origin:0 0;">29</div>
<div class="t" style="left:1161.73px;top:246.00px;font-size:14.00px;line-height:18px;color:#222222;">36.2</div>
<div class="r" style="left:794px;top:271px;width:403px;height:1px;background:#cfcfcf;"></div>
<div class="t" style="left:801.50px;top:277.00px;font-size:14.00px;line-height:18px;color:#222222;transform:scaleX(0.9889);transform-origin:0 0;">6.</div>
<div class="t" style="left:850.92px;top:277.00px;font-size:14.00px;line-height:18px;color:#222222;transform:scaleX(0.9007);transform-origin:0 0;">CHESTER SPRINGS DEOS</div>
<div class="t" style="left:1041.64px;top:277.00px;font-size:14.00px;line-height:18px;color:#222222;transform:scaleX(1.0097);transform-origin:0 0;">44</div>
<div class="t" style="left:1088.44px;top:277.00px;font-size:14.00px;line-height:18px;color:#222222;transform:scaleX(1.0097);transform-origin:0 0;">29</div>
<div class="t" style="left:1161.73px;top:277.00px;font-size:14.00px;line-height:18px;color:#222222;">36.5</div>
<div class="r" style="left:794px;top:302px;width:403px;height:1px;background:#cfcfcf;"></div>
<div class="t" style="left:801.50px;top:308.00px;font-size:14.00px;line-height:18px;color:#222222;transform:scaleX(0.9889);transform-origin:0 0;">7.</div>
<div class="t" style="left:868.94px;top:308.00px;font-size:14.00px;line-height:18px;color:#222222;transform:scaleX(0.8952);transform-origin:0 0;">WEST GROVE DEOS</div>
<div class="t" style="left:1041.64px;top:308.00px;font-size:14.00px;line-height:18px;color:#222222;transform:scaleX(1.0097);transform-origin:0 0;">42</div>
<div class="t" style="left:1088.44px;top:308.00px;font-size:14.00px;line-height:18px;color:#222222;transform:scaleX(1.0097);transform-origin:0 0;">31</div>
<div class="t" style="left:1161.73px;top:308.00px;font-size:14.00px;line-height:18px;color:#222222;">36.5</div>
<div class="r" style="left:794px;top:333px;width:403px;height:1px;background:#cfcfcf;"></div>
<div class="t" style="left:801.50px;top:339.00px;font-size:14.00px;line-height:18px;color:#222222;transform:scaleX(0.9889);transform-origin:0 0;">8.</div>
<div class="t" style="left:869.99px;top:339.00px;font-size:14.00px;line-height:18px;color:#222222;transform:scaleX(0.9036);transform-origin:0 0;">GLENMOORE DEOS</div>
<div class="t" style="left:1041.64px;top:339.00px;font-size:14.00px;line-height:18px;color:#222222;transform:scaleX(1.0097);transform-origin:0 0;">42</div>
<div class="t" style="left:1088.44px;top:339.00px;font-size:14.00px;line-height:18px;color:#222222;transform:scaleX(1.0097);transform-origin:0 0;">31</div>
<div class="t" style="left:1161.73px;top:339.00px;font-size:14.00px;line-height:18px;color:#222222;">36.6</div>
<div class="r" style="left:794px;top:364px;width:403px;height:1px;background:#cfcfcf;"></div>
<div class="t" style="left:801.50px;top:370.00px;font-size:14.00px;line-height:18px;color:#222222;transform:scaleX(0.9889);transform-origin:0 0;">9.</div>
<div class="t" style="left:855.85px;top:370.00px;font-size:14.00px;line-height:18px;color:#222222;transform:scaleX(0.9019);transform-origin:0 0;">WEST BRADFORD DEOS</div>
<div class="t" style="left:1041.64px;top:370.00px;font-size:14.00px;line-height:18px;color:#222222;transform:scaleX(1.0097);transform-origin:0 0;">45</div>
<div class="t" style="left:1088.44px;top:370.00px;font-size:14.00px;line-height:18px;color:#222222;transform:scaleX(1.0097);transform-origin:0 0;">28</div>
<div class="t" style="left:1161.73px;top:370.00px;font-size:14.00px;line-height:18px;color:#222222;">36.7</div>
<div class="r" style="left:794px;top:395px;width:403px;height:1px;background:#cfcfcf;"></div>
<div class="t" style="left:801.50px;top:401.00px;font-size:14.00px;line-height:18px;color:#222222;transform:scaleX(0.9972);transform-origin:0 0;">10.</div>
<div class="t" style="left:875.04px;top:401.00px;font-size:14.00px;line-height:18px;color:#222222;transform:scaleX(0.9578);transform-origin:0 0;">EAST NANTMEAL</div>
<div class="t" style="left:1041.64px;top:401.00px;font-size:14.00px;line-height:18px;color:#222222;transform:scaleX(1.0097);transform-origin:0 0;">43</div>
<div class="t" style="left:1088.44px;top:401.00px;font-size:14.00px;line-height:18px;color:#222222;transform:scaleX(1.0097);transform-origin:0 0;">30</div>
<div class="t" style="left:1161.73px;top:401.00px;font-size:14.00px;line-height:18px;color:#222222;">36.8</div>
<div class="r" style="left:794px;top:426px;width:403px;height:1px;background:#cfcfcf;"></div>
<div class="t" style="left:801.50px;top:432.00px;font-size:14.00px;line-height:18px;color:#222222;transform:scaleX(1.0534);transform-origin:0 0;">11.</div>
<div class="t" style="left:885.28px;top:432.00px;font-size:14.00px;line-height:18px;color:#222222;transform:scaleX(0.9240);transform-origin:0 0;">ATGLEN DEOS</div>
<div class="t" style="left:1041.64px;top:432.00px;font-size:14.00px;line-height:18px;color:#222222;transform:scaleX(1.0097);transform-origin:0 0;">42</div>
<div class="t" style="left:1088.44px;top:432.00px;font-size:14.00px;line-height:18px;color:#222222;transform:scaleX(1.0097);transform-origin:0 0;">31</div>
<div class="t" style="left:1161.73px;top:432.00px;font-size:14.00px;line-height:18px;color:#222222;">36.8</div>
<div class="r" style="left:794px;top:457px;width:403px;height:1px;background:#cfcfcf;"></div>
<div class="t" style="left:801.50px;top:463.00px;font-size:14.00px;line-height:18px;color:#222222;transform:scaleX(0.9972);transform-origin:0 0;">12.</div>
<div class="t" style="left:861.11px;top:463.00px;font-size:14.00px;line-height:18px;color:#222222;transform:scaleX(0.9019);transform-origin:0 0;">WEST CHESTER DEOS</div>
<div class="t" style="left:1041.64px;top:463.00px;font-size:14.00px;line-height:18px;color:#222222;transform:scaleX(1.0097);transform-origin:0 0;">44</div>
<div class="t" style="left:1088.44px;top:463.00px;font-size:14.00px;line-height:18px;color:#222222;transform:scaleX(1.0097);transform-origin:0 0;">30</div>
<div class="t" style="left:1161.73px;top:463.00px;font-size:14.00px;line-height:18px;color:#222222;">36.9</div>
<div class="r" style="left:794px;top:488px;width:403px;height:1px;background:#cfcfcf;"></div>
<div class="t" style="left:801.50px;top:494.00px;font-size:14.00px;line-height:18px;color:#222222;transform:scaleX(0.9972);transform-origin:0 0;">13.</div>
<div class="t" style="left:844.30px;top:494.00px;font-size:14.00px;line-height:18px;color:#222222;transform:scaleX(0.8861);transform-origin:0 0;">LONGWOOD GARDENS DE…</div>
<div class="t" style="left:1041.64px;top:494.00px;font-size:14.00px;line-height:18px;color:#222222;transform:scaleX(1.0097);transform-origin:0 0;">43</div>
<div class="t" style="left:1088.44px;top:494.00px;font-size:14.00px;line-height:18px;color:#222222;transform:scaleX(1.0097);transform-origin:0 0;">31</div>
<div class="t" style="left:1161.73px;top:494.00px;font-size:14.00px;line-height:18px;color:#222222;">37.2</div>
<div class="r" style="left:794px;top:519px;width:403px;height:1px;background:#cfcfcf;"></div>
<div class="t" style="left:801.50px;top:525.00px;font-size:14.00px;line-height:18px;color:#222222;transform:scaleX(0.9972);transform-origin:0 0;">14.</div>
<div class="t" style="left:881.45px;top:525.00px;font-size:14.00px;line-height:18px;color:#222222;transform:scaleX(0.9328);transform-origin:0 0;">DEVAULT DEOS</div>
<div class="t" style="left:1041.64px;top:525.00px;font-size:14.00px;line-height:18px;color:#222222;transform:scaleX(1.0097);transform-origin:0 0;">45</div>
<div class="t" style="left:1088.44px;top:525.00px;font-size:14.00px;line-height:18px;color:#222222;transform:scaleX(1.0097);transform-origin:0 0;">30</div>
<div class="t" style="left:1161.73px;top:525.00px;font-size:14.00px;line-height:18px;color:#222222;">37.2</div>
<div class="r" style="left:794px;top:550px;width:403px;height:1px;background:#cfcfcf;"></div>
<div class="t" style="left:801.50px;top:556.00px;font-size:14.00px;line-height:18px;color:#222222;transform:scaleX(0.9972);transform-origin:0 0;">15.</div>
<div class="t" style="left:866.04px;top:556.00px;font-size:14.00px;line-height:18px;color:#222222;transform:scaleX(0.9409);transform-origin:0 0;">NOTTINGHAM DEOS</div>
<div class="t" style="left:1041.64px;top:556.00px;font-size:14.00px;line-height:18px;color:#222222;transform:scaleX(1.0097);transform-origin:0 0;">45</div>
<div class="t" style="left:1088.44px;top:556.00px;font-size:14.00px;line-height:18px;color:#222222;transform:scaleX(1.0097);transform-origin:0 0;">30</div>
<div class="t" style="left:1161.73px;top:556.00px;font-size:14.00px;line-height:18px;color:#222222;">37.3</div>
<div class="r" style="left:794px;top:581px;width:403px;height:1px;background:#cfcfcf;"></div>
<div class="t" style="left:801.50px;top:587.00px;font-size:14.00px;line-height:18px;color:#222222;transform:scaleX(0.9972);transform-origin:0 0;">16.</div>
<div class="t" style="left:878.78px;top:587.00px;font-size:14.00px;line-height:18px;color:#222222;transform:scaleX(0.9098);transform-origin:0 0;">LONDON GROVE</div>
<div class="t" style="left:1041.64px;top:587.00px;font-size:14.00px;line-height:18px;color:#222222;transform:scaleX(1.0097);transform-origin:0 0;">44</div>
<div class="t" style="left:1088.44px;top:587.00px;font-size:14.00px;line-height:18px;color:#222222;transform:scaleX(1.0097);transform-origin:0 0;">34</div>
<div class="t" style="left:1161.73px;top:587.00px;font-size:14.00px;line-height:18px;color:#222222;">39.2</div>
<div class="r" style="left:794px;top:612px;width:403px;height:1px;background:#cfcfcf;"></div>
<div class="t" style="left:846.60px;top:62.00px;font-size:17.50px;line-height:23px;font-weight:bold;color:#111;transform:scaleX(0.9607);transform-origin:0 0;">Today's Avg. Temperatures by Station</div>
<div class="t" style="left:895.33px;top:621.00px;font-size:14.00px;line-height:18px;font-weight:bold;color:#111;transform:scaleX(0.9500);transform-origin:0 0;">Grand total</div>
<div class="t" style="left:1041.71px;top:621.00px;font-size:14.00px;line-height:18px;font-weight:bold;color:#111;">43</div>
<div class="t" style="left:1088.51px;top:621.00px;font-size:14.00px;line-height:18px;font-weight:bold;color:#111;">27</div>
<div class="t" style="left:1161.75px;top:621.00px;font-size:14.00px;line-height:18px;font-weight:bold;color:#111;">35.0</div>
<div class="t" style="left:22.60px;top:717.00px;font-size:14.00px;line-height:18px;color:#222;transform:scaleX(1.0219);transform-origin:0 0;">www.chescowx.com</div>
<div class="t" style="left:22.60px;top:734.00px;font-size:14.00px;line-height:18px;color:#222;transform:scaleX(0.9821);transform-origin:0 0;">The Premier Climate Source for Chester County PA</div>
<div class="r" style="left:1199px;top:0px;width:2px;height:849px;background:linear-gradient(to right,#f0f0f0,#d8d8d8);"></div>
<svg class="r" style="left:970.00px;top:714.00px" width="160.00" height="122.00" viewBox="-80 -45 160 122"><defs><clipPath id="rh1"><rect x="-0.5" y="-20" width="30" height="40"/></clipPath></defs><path d="M4.51,-40.25 L3.63,-40.25 L2.46,-40.24 L1.07,-40.18 L-0.46,-40.05 L-2.07,-39.84 L-3.67,-39.55 L-5.18,-39.18 L-6.55,-38.75 L-7.81,-38.27 L-9.02,-37.73 L-10.19,-37.13 L-11.31,-36.49 L-12.39,-35.79 L-13.42,-35.05 L-14.39,-34.27 L-15.32,-33.46 L-16.18,-32.62 L-16.96,-31.76 L-17.68,-30.88 L-18.35,-29.98 L-18.98,-29.04 L-19.58,-28.06 L-20.16,-27.03 L-20.71,-25.95 L-21.22,-24.82 L-21.64,-23.66 L-22.01,-22.47 L-22.33,-21.26 L-22.62,-20.00 L-22.88,-18.71 L-23.12,-17.38 L-23.35,-15.99 L-23.56,-14.52 L-23.73,-12.97 L-23.82,-11.37 L-23.83,-9.76 L-23.76,-8.17 L-23.61,-6.63 L-23.37,-5.18 L-23.09,-3.82 L-22.75,-2.55 L-22.37,-1.33 L-21.94,-0.16 L-21.49,0.95 L-21.00,2.00 L-20.49,2.97 L-19.97,3.87 L-19.44,4.70 L-18.90,5.50 L-18.35,6.27 L-17.80,7.01 L-17.25,7.69 L-16.73,8.30 L-16.25,8.82 L-15.83,9.23 L-15.50,9.54 L-15.50,9.54 L-15.82,8.92 L-16.19,8.06 L-16.58,7.02 L-16.94,5.84 L-17.24,4.61 L-17.47,3.37 L-17.64,2.18 L-17.76,1.12 L-17.87,0.15 L-17.95,-0.81 L-18.02,-1.74 L-18.06,-2.67 L-18.08,-3.59 L-18.08,-4.50 L-18.06,-5.42 L-18.02,-6.34 L-17.95,-7.28 L-17.87,-8.22 L-17.78,-9.17 L-17.66,-10.13 L-17.51,-11.08 L-17.32,-12.02 L-17.10,-12.94 L-16.85,-13.84 L-16.56,-14.70 L-16.27,-15.53 L-15.95,-16.34 L-15.62,-17.14 L-15.26,-17.92 L-14.87,-18.70 L-14.45,-19.47 L-13.97,-20.25 L-13.45,-21.03 L-12.90,-21.79 L-12.31,-22.55 L-11.69,-23.29 L-11.03,-24.01 L-10.32,-24.72 L-9.57,-25.40 L-8.77,-26.06 L-7.89,-26.71 L-6.93,-27.36 L-5.90,-27.97 L-4.83,-28.54 L-3.75,-29.05 L-2.71,-29.50 L-1.72,-29.88 L-0.84,-30.19 L-0.06,-30.45 L0.65,-30.67 L1.30,-30.85 L1.88,-31.01 L2.39,-31.14 L2.83,-31.25 L3.21,-31.34 L3.52,-31.40Z" fill="#5aade6"/>
<path d="M37.11,-16.21 L36.68,-16.98 L36.08,-17.99 L35.33,-19.16 L34.46,-20.43 L33.47,-21.71 L32.42,-22.95 L31.34,-24.08 L30.28,-25.05 L29.24,-25.90 L28.17,-26.68 L27.06,-27.39 L25.94,-28.04 L24.80,-28.62 L23.65,-29.15 L22.49,-29.60 L21.32,-30.00 L20.16,-30.32 L19.03,-30.57 L17.91,-30.75 L16.79,-30.88 L15.66,-30.96 L14.51,-30.99 L13.33,-30.97 L12.11,-30.91 L10.88,-30.78 L9.67,-30.57 L8.46,-30.30 L7.24,-29.97 L6.02,-29.59 L4.77,-29.17 L3.49,-28.71 L2.17,-28.22 L0.79,-27.67 L-0.63,-27.03 L-2.06,-26.32 L-3.46,-25.52 L-4.80,-24.66 L-6.06,-23.76 L-7.21,-22.83 L-8.23,-21.90 L-9.17,-20.98 L-10.04,-20.03 L-10.84,-19.08 L-11.57,-18.13 L-12.23,-17.19 L-12.82,-16.26 L-13.34,-15.35 L-13.79,-14.48 L-14.21,-13.62 L-14.61,-12.76 L-14.97,-11.91 L-15.29,-11.09 L-15.55,-10.34 L-15.76,-9.66 L-15.91,-9.10 L-16.01,-8.66 L-16.01,-8.66 L-15.63,-9.24 L-15.08,-10.00 L-14.37,-10.85 L-13.53,-11.75 L-12.61,-12.62 L-11.65,-13.45 L-10.71,-14.18 L-9.85,-14.83 L-9.06,-15.40 L-8.28,-15.95 L-7.50,-16.47 L-6.72,-16.97 L-5.94,-17.45 L-5.14,-17.91 L-4.34,-18.35 L-3.51,-18.77 L-2.67,-19.18 L-1.82,-19.59 L-0.94,-19.98 L-0.06,-20.36 L0.84,-20.70 L1.75,-21.01 L2.66,-21.28 L3.56,-21.51 L4.45,-21.69 L5.32,-21.85 L6.18,-21.99 L7.03,-22.10 L7.89,-22.18 L8.75,-22.23 L9.64,-22.25 L10.55,-22.22 L11.48,-22.16 L12.42,-22.07 L13.37,-21.94 L14.32,-21.77 L15.28,-21.56 L16.24,-21.30 L17.21,-20.99 L18.19,-20.63 L19.19,-20.19 L20.23,-19.68 L21.27,-19.09 L22.30,-18.45 L23.28,-17.77 L24.19,-17.09 L25.01,-16.43 L25.72,-15.82 L26.34,-15.28 L26.89,-14.77 L27.37,-14.30 L27.80,-13.88 L28.16,-13.51 L28.48,-13.18 L28.74,-12.89 L28.96,-12.65Z" fill="#0b4fb3"/>
<path d="M32.60,24.03 L33.04,23.27 L33.62,22.25 L34.26,21.02 L34.92,19.63 L35.54,18.13 L36.08,16.60 L36.52,15.10 L36.84,13.70 L37.05,12.37 L37.18,11.05 L37.25,9.74 L37.25,8.45 L37.19,7.17 L37.06,5.91 L36.88,4.67 L36.64,3.46 L36.34,2.30 L35.99,1.19 L35.59,0.13 L35.14,-0.90 L34.64,-1.92 L34.09,-2.93 L33.49,-3.94 L32.83,-4.96 L32.10,-5.96 L31.31,-6.91 L30.47,-7.83 L29.57,-8.71 L28.63,-9.58 L27.64,-10.46 L26.61,-11.33 L25.52,-12.23 L24.36,-13.15 L23.10,-14.06 L21.76,-14.94 L20.37,-15.76 L18.96,-16.49 L17.55,-17.13 L16.17,-17.66 L14.85,-18.08 L13.58,-18.43 L12.33,-18.71 L11.11,-18.93 L9.92,-19.08 L8.77,-19.18 L7.67,-19.23 L6.63,-19.23 L5.65,-19.19 L4.69,-19.12 L3.74,-19.03 L2.83,-18.92 L1.96,-18.79 L1.18,-18.64 L0.49,-18.48 L-0.08,-18.33 L-0.51,-18.19 L-0.51,-18.19 L0.19,-18.16 L1.12,-18.05 L2.22,-17.87 L3.41,-17.59 L4.63,-17.23 L5.82,-16.81 L6.93,-16.36 L7.91,-15.94 L8.81,-15.55 L9.68,-15.15 L10.52,-14.73 L11.34,-14.31 L12.15,-13.87 L12.94,-13.41 L13.73,-12.93 L14.50,-12.43 L15.28,-11.91 L16.06,-11.37 L16.83,-10.81 L17.60,-10.23 L18.35,-9.62 L19.07,-8.99 L19.76,-8.34 L20.41,-7.67 L21.01,-6.99 L21.58,-6.32 L22.13,-5.64 L22.65,-4.96 L23.15,-4.26 L23.63,-3.53 L24.09,-2.78 L24.52,-1.97 L24.93,-1.14 L25.32,-0.28 L25.68,0.61 L26.01,1.52 L26.31,2.45 L26.57,3.42 L26.79,4.41 L26.96,5.44 L27.08,6.52 L27.15,7.68 L27.17,8.88 L27.13,10.09 L27.03,11.28 L26.90,12.41 L26.74,13.45 L26.57,14.36 L26.40,15.17 L26.23,15.90 L26.07,16.55 L25.92,17.13 L25.78,17.64 L25.65,18.08 L25.53,18.45 L25.43,18.75Z" fill="#5aade6"/>
<path d="M-4.51,40.25 L-3.63,40.25 L-2.46,40.24 L-1.07,40.18 L0.46,40.05 L2.07,39.84 L3.67,39.55 L5.18,39.18 L6.55,38.75 L7.81,38.27 L9.02,37.73 L10.19,37.13 L11.31,36.49 L12.39,35.79 L13.42,35.05 L14.39,34.27 L15.32,33.46 L16.18,32.62 L16.96,31.76 L17.68,30.88 L18.35,29.98 L18.98,29.04 L19.58,28.06 L20.16,27.03 L20.71,25.95 L21.22,24.82 L21.64,23.66 L22.01,22.47 L22.33,21.26 L22.62,20.00 L22.88,18.71 L23.12,17.38 L23.35,15.99 L23.56,14.52 L23.73,12.97 L23.82,11.37 L23.83,9.76 L23.76,8.17 L23.61,6.63 L23.37,5.18 L23.09,3.82 L22.75,2.55 L22.37,1.33 L21.94,0.16 L21.49,-0.95 L21.00,-2.00 L20.49,-2.97 L19.97,-3.87 L19.44,-4.70 L18.90,-5.50 L18.35,-6.27 L17.80,-7.01 L17.25,-7.69 L16.73,-8.30 L16.25,-8.82 L15.83,-9.23 L15.50,-9.54 L15.50,-9.54 L15.82,-8.92 L16.19,-8.06 L16.58,-7.02 L16.94,-5.84 L17.24,-4.61 L17.47,-3.37 L17.64,-2.18 L17.76,-1.12 L17.87,-0.15 L17.95,0.81 L18.02,1.74 L18.06,2.67 L18.08,3.59 L18.08,4.50 L18.06,5.42 L18.02,6.34 L17.95,7.28 L17.87,8.22 L17.78,9.17 L17.66,10.13 L17.51,11.08 L17.32,12.02 L17.10,12.94 L16.85,13.84 L16.56,14.70 L16.27,15.53 L15.95,16.34 L15.62,17.14 L15.26,17.92 L14.87,18.70 L14.45,19.47 L13.97,20.25 L13.45,21.03 L12.90,21.79 L12.31,22.55 L11.69,23.29 L11.03,24.01 L10.32,24.72 L9.57,25.40 L8.77,26.06 L7.89,26.71 L6.93,27.36 L5.90,27.97 L4.83,28.54 L3.75,29.05 L2.71,29.50 L1.72,29.88 L0.84,30.19 L0.06,30.45 L-0.65,30.67 L-1.30,30.85 L-1.88,31.01 L-2.39,31.14 L-2.83,31.25 L-3.21,31.34 L-3.52,31.40Z" fill="#0b4fb3"/>
<path d="M-37.11,16.21 L-36.68,16.98 L-36.08,17.99 L-35.33,19.16 L-34.46,20.43 L-33.47,21.71 L-32.42,22.95 L-31.34,24.08 L-30.28,25.05 L-29.24,25.90 L-28.17,26.68 L-27.06,27.39 L-25.94,28.04 L-24.80,28.62 L-23.65,29.15 L-22.49,29.60 L-21.32,30.00 L-20.16,30.32 L-19.03,30.57 L-17.91,30.75 L-16.79,30.88 L-15.66,30.96 L-14.51,30.99 L-13.33,30.97 L-12.11,30.91 L-10.88,30.78 L-9.67,30.57 L-8.46,30.30 L-7.24,29.97 L-6.02,29.59 L-4.77,29.17 L-3.49,28.71 L-2.17,28.22 L-0.79,27.67 L0.63,27.03 L2.06,26.32 L3.46,25.52 L4.80,24.66 L6.06,23.76 L7.21,22.83 L8.23,21.90 L9.17,20.98 L10.04,20.03 L10.84,19.08 L11.57,18.13 L12.23,17.19 L12.82,16.26 L13.34,15.35 L13.79,14.48 L14.21,13.62 L14.61,12.76 L14.97,11.91 L15.29,11.09 L15.55,10.34 L15.76,9.66 L15.91,9.10 L16.01,8.66 L16.01,8.66 L15.63,9.24 L15.08,10.00 L14.37,10.85 L13.53,11.75 L12.61,12.62 L11.65,13.45 L10.71,14.18 L9.85,14.83 L9.06,15.40 L8.28,15.95 L7.50,16.47 L6.72,16.97 L5.94,17.45 L5.14,17.91 L4.34,18.35 L3.51,18.77 L2.67,19.18 L1.82,19.59 L0.94,19.98 L0.06,20.36 L-0.84,20.70 L-1.75,21.01 L-2.66,21.28 L-3.56,21.51 L-4.45,21.69 L-5.32,21.85 L-6.18,21.99 L-7.03,22.10 L-7.89,22.18 L-8.75,22.23 L-9.64,22.25 L-10.55,22.22 L-11.48,22.16 L-12.42,22.07 L-13.37,21.94 L-14.32,21.77 L-15.28,21.56 L-16.24,21.30 L-17.21,20.99 L-18.19,20.63 L-19.19,20.19 L-20.23,19.68 L-21.27,19.09 L-22.30,18.45 L-23.28,17.77 L-24.19,17.09 L-25.01,16.43 L-25.72,15.82 L-26.34,15.28 L-26.89,14.77 L-27.37,14.30 L-27.80,13.88 L-28.16,13.51 L-28.48,13.18 L-28.74,12.89 L-28.96,12.65Z" fill="#5aade6"/>
<path d="M-32.60,-24.03 L-33.04,-23.27 L-33.62,-22.25 L-34.26,-21.02 L-34.92,-19.63 L-35.54,-18.13 L-36.08,-16.60 L-36.52,-15.10 L-36.84,-13.70 L-37.05,-12.37 L-37.18,-11.05 L-37.25,-9.74 L-37.25,-8.45 L-37.19,-7.17 L-37.06,-5.91 L-36.88,-4.67 L-36.64,-3.46 L-36.34,-2.30 L-35.99,-1.19 L-35.59,-0.13 L-35.14,0.90 L-34.64,1.92 L-34.09,2.93 L-33.49,3.94 L-32.83,4.96 L-32.10,5.96 L-31.31,6.91 L-30.47,7.83 L-29.57,8.71 L-28.63,9.58 L-27.64,10.46 L-26.61,11.33 L-25.52,12.23 L-24.36,13.15 L-23.10,14.06 L-21.76,14.94 L-20.37,15.76 L-18.96,16.49 L-17.55,17.13 L-16.17,17.66 L-14.85,18.08 L-13.58,18.43 L-12.33,18.71 L-11.11,18.93 L-9.92,19.08 L-8.77,19.18 L-7.67,19.23 L-6.63,19.23 L-5.65,19.19 L-4.69,19.12 L-3.74,19.03 L-2.83,18.92 L-1.96,18.79 L-1.18,18.64 L-0.49,18.48 L0.08,18.33 L0.51,18.19 L0.51,18.19 L-0.19,18.16 L-1.12,18.05 L-2.22,17.87 L-3.41,17.59 L-4.63,17.23 L-5.82,16.81 L-6.93,16.36 L-7.91,15.94 L-8.81,15.55 L-9.68,15.15 L-10.52,14.73 L-11.34,14.31 L-12.15,13.87 L-12.94,13.41 L-13.73,12.93 L-14.50,12.43 L-15.28,11.91 L-16.06,11.37 L-16.83,10.81 L-17.60,10.23 L-18.35,9.62 L-19.07,8.99 L-19.76,8.34 L-20.41,7.67 L-21.01,6.99 L-21.58,6.32 L-22.13,5.64 L-22.65,4.96 L-23.15,4.26 L-23.63,3.53 L-24.09,2.78 L-24.52,1.97 L-24.93,1.14 L-25.32,0.28 L-25.68,-0.61 L-26.01,-1.52 L-26.31,-2.45 L-26.57,-3.42 L-26.79,-4.41 L-26.96,-5.44 L-27.08,-6.52 L-27.15,-7.68 L-27.17,-8.88 L-27.13,-10.09 L-27.03,-11.28 L-26.90,-12.41 L-26.74,-13.45 L-26.57,-14.36 L-26.40,-15.17 L-26.23,-15.90 L-26.07,-16.55 L-25.92,-17.13 L-25.78,-17.64 L-25.65,-18.08 L-25.53,-18.45 L-25.43,-18.75Z" fill="#0b4fb3"/>
<path d="M-0.5,-9.6 A9.6,9.6 0 0 0 -0.5,9.6 Z" fill="#0b4fb3"/>
<circle cx="0" cy="0.2" r="9.6" fill="#5aade6" clip-path="url(#rh1)"/>
<polygon points="1.6,-9.4 3.7,-13.4 5.2,-8.2" fill="#5aade6"/>
<polygon points="-2.4,9.4 -4.7,13.2 -6.0,8.0" fill="#0b4fb3"/>
<polygon points="3.8,-13.6 -5.2,0.8 -1.2,0.8 -4.8,13.2 5,-1.6 0.8,-1.6" fill="#fff"/><text x="-76.5" y="71.4" font-family="Liberation Sans" font-weight="bold" font-size="26.7" stroke-width="0.9" fill="#0b4fb3" stroke="#0b4fb3" textLength="107.5" lengthAdjust="spacingAndGlyphs">CHESCO</text><text x="32.3" y="71.4" font-family="Liberation Sans" font-weight="bold" font-size="26.7" stroke-width="0.9" fill="#5aade6" stroke="#5aade6" textLength="44" lengthAdjust="spacingAndGlyphs">WX</text></svg>
<svg class="r" style="left:28.70px;top:752.05px" width="113.60" height="86.62" viewBox="-80 -45 160 122"><defs><clipPath id="rh2"><rect x="-0.5" y="-20" width="30" height="40"/></clipPath></defs><path d="M4.51,-40.25 L3.63,-40.25 L2.46,-40.24 L1.07,-40.18 L-0.46,-40.05 L-2.07,-39.84 L-3.67,-39.55 L-5.18,-39.18 L-6.55,-38.75 L-7.81,-38.27 L-9.02,-37.73 L-10.19,-37.13 L-11.31,-36.49 L-12.39,-35.79 L-13.42,-35.05 L-14.39,-34.27 L-15.32,-33.46 L-16.18,-32.62 L-16.96,-31.76 L-17.68,-30.88 L-18.35,-29.98 L-18.98,-29.04 L-19.58,-28.06 L-20.16,-27.03 L-20.71,-25.95 L-21.22,-24.82 L-21.64,-23.66 L-22.01,-22.47 L-22.33,-21.26 L-22.62,-20.00 L-22.88,-18.71 L-23.12,-17.38 L-23.35,-15.99 L-23.56,-14.52 L-23.73,-12.97 L-23.82,-11.37 L-23.83,-9.76 L-23.76,-8.17 L-23.61,-6.63 L-23.37,-5.18 L-23.09,-3.82 L-22.75,-2.55 L-22.37,-1.33 L-21.94,-0.16 L-21.49,0.95 L-21.00,2.00 L-20.49,2.97 L-19.97,3.87 L-19.44,4.70 L-18.90,5.50 L-18.35,6.27 L-17.80,7.01 L-17.25,7.69 L-16.73,8.30 L-16.25,8.82 L-15.83,9.23 L-15.50,9.54 L-15.50,9.54 L-15.82,8.92 L-16.19,8.06 L-16.58,7.02 L-16.94,5.84 L-17.24,4.61 L-17.47,3.37 L-17.64,2.18 L-17.76,1.12 L-17.87,0.15 L-17.95,-0.81 L-18.02,-1.74 L-18.06,-2.67 L-18.08,-3.59 L-18.08,-4.50 L-18.06,-5.42 L-18.02,-6.34 L-17.95,-7.28 L-17.87,-8.22 L-17.78,-9.17 L-17.66,-10.13 L-17.51,-11.08 L-17.32,-12.02 L-17.10,-12.94 L-16.85,-13.84 L-16.56,-14.70 L-16.27,-15.53 L-15.95,-16.34 L-15.62,-17.14 L-15.26,-17.92 L-14.87,-18.70 L-14.45,-19.47 L-13.97,-20.25 L-13.45,-21.03 L-12.90,-21.79 L-12.31,-22.55 L-11.69,-23.29 L-11.03,-24.01 L-10.32,-24.72 L-9.57,-25.40 L-8.77,-26.06 L-7.89,-26.71 L-6.93,-27.36 L-5.90,-27.97 L-4.83,-28.54 L-3.75,-29.05 L-2.71,-29.50 L-1.72,-29.88 L-0.84,-30.19 L-0.06,-30.45 L0.65,-30.67 L1.30,-30.85 L1.88,-31.01 L2.39,-31.14 L2.83,-31.25 L3.21,-31.34 L3.52,-31.40Z" fill="#5aade6"/>
<path d="M37.11,-16.21 L36.68,-16.98 L36.08,-17.99 L35.33,-19.16 L34.46,-20.43 L33.47,-21.71 L32.42,-22.95 L31.34,-24.08 L30.28,-25.05 L29.24,-25.90 L28.17,-26.68 L27.06,-27.39 L25.94,-28.04 L24.80,-28.62 L23.65,-29.15 L22.49,-29.60 L21.32,-30.00 L20.16,-30.32 L19.03,-30.57 L17.91,-30.75 L16.79,-30.88 L15.66,-30.96 L14.51,-30.99 L13.33,-30.97 L12.11,-30.91 L10.88,-30.78 L9.67,-30.57 L8.46,-30.30 L7.24,-29.97 L6.02,-29.59 L4.77,-29.17 L3.49,-28.71 L2.17,-28.22 L0.79,-27.67 L-0.63,-27.03 L-2.06,-26.32 L-3.46,-25.52 L-4.80,-24.66 L-6.06,-23.76 L-7.21,-22.83 L-8.23,-21.90 L-9.17,-20.98 L-10.04,-20.03 L-10.84,-19.08 L-11.57,-18.13 L-12.23,-17.19 L-12.82,-16.26 L-13.34,-15.35 L-13.79,-14.48 L-14.21,-13.62 L-14.61,-12.76 L-14.97,-11.91 L-15.29,-11.09 L-15.55,-10.34 L-15.76,-9.66 L-15.91,-9.10 L-16.01,-8.66 L-16.01,-8.66 L-15.63,-9.24 L-15.08,-10.00 L-14.37,-10.85 L-13.53,-11.75 L-12.61,-12.62 L-11.65,-13.45 L-10.71,-14.18 L-9.85,-14.83 L-9.06,-15.40 L-8.28,-15.95 L-7.50,-16.47 L-6.72,-16.97 L-5.94,-17.45 L-5.14,-17.91 L-4.34,-18.35 L-3.51,-18.77 L-2.67,-19.18 L-1.82,-19.59 L-0.94,-19.98 L-0.06,-20.36 L0.84,-20.70 L1.75,-21.01 L2.66,-21.28 L3.56,-21.51 L4.45,-21.69 L5.32,-21.85 L6.18,-21.99 L7.03,-22.10 L7.89,-22.18 L8.75,-22.23 L9.64,-22.25 L10.55,-22.22 L11.48,-22.16 L12.42,-22.07 L13.37,-21.94 L14.32,-21.77 L15.28,-21.56 L16.24,-21.30 L17.21,-20.99 L18.19,-20.63 L19.19,-20.19 L20.23,-19.68 L21.27,-19.09 L22.30,-18.45 L23.28,-17.77 L24.19,-17.09 L25.01,-16.43 L25.72,-15.82 L26.34,-15.28 L26.89,-14.77 L27.37,-14.30 L27.80,-13.88 L28.16,-13.51 L28.48,-13.18 L28.74,-12.89 L28.96,-12.65Z" fill="#0b4fb3"/>
<path d="M32.60,24.03 L33.04,23.27 L33.62,22.25 L34.26,21.02 L34.92,19.63 L35.54,18.13 L36.08,16.60 L36.52,15.10 L36.84,13.70 L37.05,12.37 L37.18,11.05 L37.25,9.74 L37.25,8.45 L37.19,7.17 L37.06,5.91 L36.88,4.67 L36.64,3.46 L36.34,2.30 L35.99,1.19 L35.59,0.13 L35.14,-0.90 L34.64,-1.92 L34.09,-2.93 L33.49,-3.94 L32.83,-4.96 L32.10,-5.96 L31.31,-6.91 L30.47,-7.83 L29.57,-8.71 L28.63,-9.58 L27.64,-10.46 L26.61,-11.33 L25.52,-12.23 L24.36,-13.15 L23.10,-14.06 L21.76,-14.94 L20.37,-15.76 L18.96,-16.49 L17.55,-17.13 L16.17,-17.66 L14.85,-18.08 L13.58,-18.43 L12.33,-18.71 L11.11,-18.93 L9.92,-19.08 L8.77,-19.18 L7.67,-19.23 L6.63,-19.23 L5.65,-19.19 L4.69,-19.12 L3.74,-19.03 L2.83,-18.92 L1.96,-18.79 L1.18,-18.64 L0.49,-18.48 L-0.08,-18.33 L-0.51,-18.19 L-0.51,-18.19 L0.19,-18.16 L1.12,-18.05 L2.22,-17.87 L3.41,-17.59 L4.63,-17.23 L5.82,-16.81 L6.93,-16.36 L7.91,-15.94 L8.81,-15.55 L9.68,-15.15 L10.52,-14.73 L11.34,-14.31 L12.15,-13.87 L12.94,-13.41 L13.73,-12.93 L14.50,-12.43 L15.28,-11.91 L16.06,-11.37 L16.83,-10.81 L17.60,-10.23 L18.35,-9.62 L19.07,-8.99 L19.76,-8.34 L20.41,-7.67 L21.01,-6.99 L21.58,-6.32 L22.13,-5.64 L22.65,-4.96 L23.15,-4.26 L23.63,-3.53 L24.09,-2.78 L24.52,-1.97 L24.93,-1.14 L25.32,-0.28 L25.68,0.61 L26.01,1.52 L26.31,2.45 L26.57,3.42 L26.79,4.41 L26.96,5.44 L27.08,6.52 L27.15,7.68 L27.17,8.88 L27.13,10.09 L27.03,11.28 L26.90,12.41 L26.74,13.45 L26.57,14.36 L26.40,15.17 L26.23,15.90 L26.07,16.55 L25.92,17.13 L25.78,17.64 L25.65,18.08 L25.53,18.45 L25.43,18.75Z" fill="#5aade6"/>
<path d="M-4.51,40.25 L-3.63,40.25 L-2.46,40.24 L-1.07,40.18 L0.46,40.05 L2.07,39.84 L3.67,39.55 L5.18,39.18 L6.55,38.75 L7.81,38.27 L9.02,37.73 L10.19,37.13 L11.31,36.49 L12.39,35.79 L13.42,35.05 L14.39,34.27 L15.32,33.46 L16.18,32.62 L16.96,31.76 L17.68,30.88 L18.35,29.98 L18.98,29.04 L19.58,28.06 L20.16,27.03 L20.71,25.95 L21.22,24.82 L21.64,23.66 L22.01,22.47 L22.33,21.26 L22.62,20.00 L22.88,18.71 L23.12,17.38 L23.35,15.99 L23.56,14.52 L23.73,12.97 L23.82,11.37 L23.83,9.76 L23.76,8.17 L23.61,6.63 L23.37,5.18 L23.09,3.82 L22.75,2.55 L22.37,1.33 L21.94,0.16 L21.49,-0.95 L21.00,-2.00 L20.49,-2.97 L19.97,-3.87 L19.44,-4.70 L18.90,-5.50 L18.35,-6.27 L17.80,-7.01 L17.25,-7.69 L16.73,-8.30 L16.25,-8.82 L15.83,-9.23 L15.50,-9.54 L15.50,-9.54 L15.82,-8.92 L16.19,-8.06 L16.58,-7.02 L16.94,-5.84 L17.24,-4.61 L17.47,-3.37 L17.64,-2.18 L17.76,-1.12 L17.87,-0.15 L17.95,0.81 L18.02,1.74 L18.06,2.67 L18.08,3.59 L18.08,4.50 L18.06,5.42 L18.02,6.34 L17.95,7.28 L17.87,8.22 L17.78,9.17 L17.66,10.13 L17.51,11.08 L17.32,12.02 L17.10,12.94 L16.85,13.84 L16.56,14.70 L16.27,15.53 L15.95,16.34 L15.62,17.14 L15.26,17.92 L14.87,18.70 L14.45,19.47 L13.97,20.25 L13.45,21.03 L12.90,21.79 L12.31,22.55 L11.69,23.29 L11.03,24.01 L10.32,24.72 L9.57,25.40 L8.77,26.06 L7.89,26.71 L6.93,27.36 L5.90,27.97 L4.83,28.54 L3.75,29.05 L2.71,29.50 L1.72,29.88 L0.84,30.19 L0.06,30.45 L-0.65,30.67 L-1.30,30.85 L-1.88,31.01 L-2.39,31.14 L-2.83,31.25 L-3.21,31.34 L-3.52,31.40Z" fill="#0b4fb3"/>
<path d="M-37.11,16.21 L-36.68,16.98 L-36.08,17.99 L-35.33,19.16 L-34.46,20.43 L-33.47,21.71 L-32.42,22.95 L-31.34,24.08 L-30.28,25.05 L-29.24,25.90 L-28.17,26.68 L-27.06,27.39 L-25.94,28.04 L-24.80,28.62 L-23.65,29.15 L-22.49,29.60 L-21.32,30.00 L-20.16,30.32 L-19.03,30.57 L-17.91,30.75 L-16.79,30.88 L-15.66,30.96 L-14.51,30.99 L-13.33,30.97 L-12.11,30.91 L-10.88,30.78 L-9.67,30.57 L-8.46,30.30 L-7.24,29.97 L-6.02,29.59 L-4.77,29.17 L-3.49,28.71 L-2.17,28.22 L-0.79,27.67 L0.63,27.03 L2.06,26.32 L3.46,25.52 L4.80,24.66 L6.06,23.76 L7.21,22.83 L8.23,21.90 L9.17,20.98 L10.04,20.03 L10.84,19.08 L11.57,18.13 L12.23,17.19 L12.82,16.26 L13.34,15.35 L13.79,14.48 L14.21,13.62 L14.61,12.76 L14.97,11.91 L15.29,11.09 L15.55,10.34 L15.76,9.66 L15.91,9.10 L16.01,8.66 L16.01,8.66 L15.63,9.24 L15.08,10.00 L14.37,10.85 L13.53,11.75 L12.61,12.62 L11.65,13.45 L10.71,14.18 L9.85,14.83 L9.06,15.40 L8.28,15.95 L7.50,16.47 L6.72,16.97 L5.94,17.45 L5.14,17.91 L4.34,18.35 L3.51,18.77 L2.67,19.18 L1.82,19.59 L0.94,19.98 L0.06,20.36 L-0.84,20.70 L-1.75,21.01 L-2.66,21.28 L-3.56,21.51 L-4.45,21.69 L-5.32,21.85 L-6.18,21.99 L-7.03,22.10 L-7.89,22.18 L-8.75,22.23 L-9.64,22.25 L-10.55,22.22 L-11.48,22.16 L-12.42,22.07 L-13.37,21.94 L-14.32,21.77 L-15.28,21.56 L-16.24,21.30 L-17.21,20.99 L-18.19,20.63 L-19.19,20.19 L-20.23,19.68 L-21.27,19.09 L-22.30,18.45 L-23.28,17.77 L-24.19,17.09 L-25.01,16.43 L-25.72,15.82 L-26.34,15.28 L-26.89,14.77 L-27.37,14.30 L-27.80,13.88 L-28.16,13.51 L-28.48,13.18 L-28.74,12.89 L-28.96,12.65Z" fill="#5aade6"/>
<path d="M-32.60,-24.03 L-33.04,-23.27 L-33.62,-22.25 L-34.26,-21.02 L-34.92,-19.63 L-35.54,-18.13 L-36.08,-16.60 L-36.52,-15.10 L-36.84,-13.70 L-37.05,-12.37 L-37.18,-11.05 L-37.25,-9.74 L-37.25,-8.45 L-37.19,-7.17 L-37.06,-5.91 L-36.88,-4.67 L-36.64,-3.46 L-36.34,-2.30 L-35.99,-1.19 L-35.59,-0.13 L-35.14,0.90 L-34.64,1.92 L-34.09,2.93 L-33.49,3.94 L-32.83,4.96 L-32.10,5.96 L-31.31,6.91 L-30.47,7.83 L-29.57,8.71 L-28.63,9.58 L-27.64,10.46 L-26.61,11.33 L-25.52,12.23 L-24.36,13.15 L-23.10,14.06 L-21.76,14.94 L-20.37,15.76 L-18.96,16.49 L-17.55,17.13 L-16.17,17.66 L-14.85,18.08 L-13.58,18.43 L-12.33,18.71 L-11.11,18.93 L-9.92,19.08 L-8.77,19.18 L-7.67,19.23 L-6.63,19.23 L-5.65,19.19 L-4.69,19.12 L-3.74,19.03 L-2.83,18.92 L-1.96,18.79 L-1.18,18.64 L-0.49,18.48 L0.08,18.33 L0.51,18.19 L0.51,18.19 L-0.19,18.16 L-1.12,18.05 L-2.22,17.87 L-3.41,17.59 L-4.63,17.23 L-5.82,16.81 L-6.93,16.36 L-7.91,15.94 L-8.81,15.55 L-9.68,15.15 L-10.52,14.73 L-11.34,14.31 L-12.15,13.87 L-12.94,13.41 L-13.73,12.93 L-14.50,12.43 L-15.28,11.91 L-16.06,11.37 L-16.83,10.81 L-17.60,10.23 L-18.35,9.62 L-19.07,8.99 L-19.76,8.34 L-20.41,7.67 L-21.01,6.99 L-21.58,6.32 L-22.13,5.64 L-22.65,4.96 L-23.15,4.26 L-23.63,3.53 L-24.09,2.78 L-24.52,1.97 L-24.93,1.14 L-25.32,0.28 L-25.68,-0.61 L-26.01,-1.52 L-26.31,-2.45 L-26.57,-3.42 L-26.79,-4.41 L-26.96,-5.44 L-27.08,-6.52 L-27.15,-7.68 L-27.17,-8.88 L-27.13,-10.09 L-27.03,-11.28 L-26.90,-12.41 L-26.74,-13.45 L-26.57,-14.36 L-26.40,-15.17 L-26.23,-15.90 L-26.07,-16.55 L-25.92,-17.13 L-25.78,-17.64 L-25.65,-18.08 L-25.53,-18.45 L-25.43,-18.75Z" fill="#0b4fb3"/>
<path d="M-0.5,-9.6 A9.6,9.6 0 0 0 -0.5,9.6 Z" fill="#0b4fb3"/>
<circle cx="0" cy="0.2" r="9.6" fill="#5aade6" clip-path="url(#rh2)"/>
<polygon points="1.6,-9.4 3.7,-13.4 5.2,-8.2" fill="#5aade6"/>
<polygon points="-2.4,9.4 -4.7,13.2 -6.0,8.0" fill="#0b4fb3"/>
<polygon points="3.8,-13.6 -5.2,0.8 -1.2,0.8 -4.8,13.2 5,-1.6 0.8,-1.6" fill="#fff"/><text x="-76.5" y="71.4" font-family="Liberation Sans" font-weight="bold" font-size="26.7" stroke-width="0.9" fill="#0b4fb3" stroke="#0b4fb3" textLength="107.5" lengthAdjust="spacingAndGlyphs">CHESCO</text><text x="32.3" y="71.4" font-family="Liberation Sans" font-weight="bold" font-size="26.7" stroke-width="0.9" fill="#5aade6" stroke="#5aade6" textLength="44" lengthAdjust="spacingAndGlyphs">WX</text></svg>
<svg class="r" style="left:12.92px;top:13.73px" width="32.96" height="25.13" viewBox="-80 -45 160 122"><defs><clipPath id="rh3"><rect x="-0.5" y="-20" width="30" height="40"/></clipPath></defs><path d="M4.51,-40.25 L3.63,-40.25 L2.46,-40.24 L1.07,-40.18 L-0.46,-40.05 L-2.07,-39.84 L-3.67,-39.55 L-5.18,-39.18 L-6.55,-38.75 L-7.81,-38.27 L-9.02,-37.73 L-10.19,-37.13 L-11.31,-36.49 L-12.39,-35.79 L-13.42,-35.05 L-14.39,-34.27 L-15.32,-33.46 L-16.18,-32.62 L-16.96,-31.76 L-17.68,-30.88 L-18.35,-29.98 L-18.98,-29.04 L-19.58,-28.06 L-20.16,-27.03 L-20.71,-25.95 L-21.22,-24.82 L-21.64,-23.66 L-22.01,-22.47 L-22.33,-21.26 L-22.62,-20.00 L-22.88,-18.71 L-23.12,-17.38 L-23.35,-15.99 L-23.56,-14.52 L-23.73,-12.97 L-23.82,-11.37 L-23.83,-9.76 L-23.76,-8.17 L-23.61,-6.63 L-23.37,-5.18 L-23.09,-3.82 L-22.75,-2.55 L-22.37,-1.33 L-21.94,-0.16 L-21.49,0.95 L-21.00,2.00 L-20.49,2.97 L-19.97,3.87 L-19.44,4.70 L-18.90,5.50 L-18.35,6.27 L-17.80,7.01 L-17.25,7.69 L-16.73,8.30 L-16.25,8.82 L-15.83,9.23 L-15.50,9.54 L-15.50,9.54 L-15.82,8.92 L-16.19,8.06 L-16.58,7.02 L-16.94,5.84 L-17.24,4.61 L-17.47,3.37 L-17.64,2.18 L-17.76,1.12 L-17.87,0.15 L-17.95,-0.81 L-18.02,-1.74 L-18.06,-2.67 L-18.08,-3.59 L-18.08,-4.50 L-18.06,-5.42 L-18.02,-6.34 L-17.95,-7.28 L-17.87,-8.22 L-17.78,-9.17 L-17.66,-10.13 L-17.51,-11.08 L-17.32,-12.02 L-17.10,-12.94 L-16.85,-13.84 L-16.56,-14.70 L-16.27,-15.53 L-15.95,-16.34 L-15.62,-17.14 L-15.26,-17.92 L-14.87,-18.70 L-14.45,-19.47 L-13.97,-20.25 L-13.45,-21.03 L-12.90,-21.79 L-12.31,-22.55 L-11.69,-23.29 L-11.03,-24.01 L-10.32,-24.72 L-9.57,-25.40 L-8.77,-26.06 L-7.89,-26.71 L-6.93,-27.36 L-5.90,-27.97 L-4.83,-28.54 L-3.75,-29.05 L-2.71,-29.50 L-1.72,-29.88 L-0.84,-30.19 L-0.06,-30.45 L0.65,-30.67 L1.30,-30.85 L1.88,-31.01 L2.39,-31.14 L2.83,-31.25 L3.21,-31.34 L3.52,-31.40Z" fill="#5aade6"/>
<path d="M37.11,-16.21 L36.68,-16.98 L36.08,-17.99 L35.33,-19.16 L34.46,-20.43 L33.47,-21.71 L32.42,-22.95 L31.34,-24.08 L30.28,-25.05 L29.24,-25.90 L28.17,-26.68 L27.06,-27.39 L25.94,-28.04 L24.80,-28.62 L23.65,-29.15 L22.49,-29.60 L21.32,-30.00 L20.16,-30.32 L19.03,-30.57 L17.91,-30.75 L16.79,-30.88 L15.66,-30.96 L14.51,-30.99 L13.33,-30.97 L12.11,-30.91 L10.88,-30.78 L9.67,-30.57 L8.46,-30.30 L7.24,-29.97 L6.02,-29.59 L4.77,-29.17 L3.49,-28.71 L2.17,-28.22 L0.79,-27.67 L-0.63,-27.03 L-2.06,-26.32 L-3.46,-25.52 L-4.80,-24.66 L-6.06,-23.76 L-7.21,-22.83 L-8.23,-21.90 L-9.17,-20.98 L-10.04,-20.03 L-10.84,-19.08 L-11.57,-18.13 L-12.23,-17.19 L-12.82,-16.26 L-13.34,-15.35 L-13.79,-14.48 L-14.21,-13.62 L-14.61,-12.76 L-14.97,-11.91 L-15.29,-11.09 L-15.55,-10.34 L-15.76,-9.66 L-15.91,-9.10 L-16.01,-8.66 L-16.01,-8.66 L-15.63,-9.24 L-15.08,-10.00 L-14.37,-10.85 L-13.53,-11.75 L-12.61,-12.62 L-11.65,-13.45 L-10.71,-14.18 L-9.85,-14.83 L-9.06,-15.40 L-8.28,-15.95 L-7.50,-16.47 L-6.72,-16.97 L-5.94,-17.45 L-5.14,-17.91 L-4.34,-18.35 L-3.51,-18.77 L-2.67,-19.18 L-1.82,-19.59 L-0.94,-19.98 L-0.06,-20.36 L0.84,-20.70 L1.75,-21.01 L2.66,-21.28 L3.56,-21.51 L4.45,-21.69 L5.32,-21.85 L6.18,-21.99 L7.03,-22.10 L7.89,-22.18 L8.75,-22.23 L9.64,-22.25 L10.55,-22.22 L11.48,-22.16 L12.42,-22.07 L13.37,-21.94 L14.32,-21.77 L15.28,-21.56 L16.24,-21.30 L17.21,-20.99 L18.19,-20.63 L19.19,-20.19 L20.23,-19.68 L21.27,-19.09 L22.30,-18.45 L23.28,-17.77 L24.19,-17.09 L25.01,-16.43 L25.72,-15.82 L26.34,-15.28 L26.89,-14.77 L27.37,-14.30 L27.80,-13.88 L28.16,-13.51 L28.48,-13.18 L28.74,-12.89 L28.96,-12.65Z" fill="#0b4fb3"/>
<path d="M32.60,24.03 L33.04,23.27 L33.62,22.25 L34.26,21.02 L34.92,19.63 L35.54,18.13 L36.08,16.60 L36.52,15.10 L36.84,13.70 L37.05,12.37 L37.18,11.05 L37.25,9.74 L37.25,8.45 L37.19,7.17 L37.06,5.91 L36.88,4.67 L36.64,3.46 L36.34,2.30 L35.99,1.19 L35.59,0.13 L35.14,-0.90 L34.64,-1.92 L34.09,-2.93 L33.49,-3.94 L32.83,-4.96 L32.10,-5.96 L31.31,-6.91 L30.47,-7.83 L29.57,-8.71 L28.63,-9.58 L27.64,-10.46 L26.61,-11.33 L25.52,-12.23 L24.36,-13.15 L23.10,-14.06 L21.76,-14.94 L20.37,-15.76 L18.96,-16.49 L17.55,-17.13 L16.17,-17.66 L14.85,-18.08 L13.58,-18.43 L12.33,-18.71 L11.11,-18.93 L9.92,-19.08 L8.77,-19.18 L7.67,-19.23 L6.63,-19.23 L5.65,-19.19 L4.69,-19.12 L3.74,-19.03 L2.83,-18.92 L1.96,-18.79 L1.18,-18.64 L0.49,-18.48 L-0.08,-18.33 L-0.51,-18.19 L-0.51,-18.19 L0.19,-18.16 L1.12,-18.05 L2.22,-17.87 L3.41,-17.59 L4.63,-17.23 L5.82,-16.81 L6.93,-16.36 L7.91,-15.94 L8.81,-15.55 L9.68,-15.15 L10.52,-14.73 L11.34,-14.31 L12.15,-13.87 L12.94,-13.41 L13.73,-12.93 L14.50,-12.43 L15.28,-11.91 L16.06,-11.37 L16.83,-10.81 L17.60,-10.23 L18.35,-9.62 L19.07,-8.99 L19.76,-8.34 L20.41,-7.67 L21.01,-6.99 L21.58,-6.32 L22.13,-5.64 L22.65,-4.96 L23.15,-4.26 L23.63,-3.53 L24.09,-2.78 L24.52,-1.97 L24.93,-1.14 L25.32,-0.28 L25.68,0.61 L26.01,1.52 L26.31,2.45 L26.57,3.42 L26.79,4.41 L26.96,5.44 L27.08,6.52 L27.15,7.68 L27.17,8.88 L27.13,10.09 L27.03,11.28 L26.90,12.41 L26.74,13.45 L26.57,14.36 L26.40,15.17 L26.23,15.90 L26.07,16.55 L25.92,17.13 L25.78,17.64 L25.65,18.08 L25.53,18.45 L25.43,18.75Z" fill="#5aade6"/>
<path d="M-4.51,40.25 L-3.63,40.25 L-2.46,40.24 L-1.07,40.18 L0.46,40.05 L2.07,39.84 L3.67,39.55 L5.18,39.18 L6.55,38.75 L7.81,38.27 L9.02,37.73 L10.19,37.13 L11.31,36.49 L12.39,35.79 L13.42,35.05 L14.39,34.27 L15.32,33.46 L16.18,32.62 L16.96,31.76 L17.68,30.88 L18.35,29.98 L18.98,29.04 L19.58,28.06 L20.16,27.03 L20.71,25.95 L21.22,24.82 L21.64,23.66 L22.01,22.47 L22.33,21.26 L22.62,20.00 L22.88,18.71 L23.12,17.38 L23.35,15.99 L23.56,14.52 L23.73,12.97 L23.82,11.37 L23.83,9.76 L23.76,8.17 L23.61,6.63 L23.37,5.18 L23.09,3.82 L22.75,2.55 L22.37,1.33 L21.94,0.16 L21.49,-0.95 L21.00,-2.00 L20.49,-2.97 L19.97,-3.87 L19.44,-4.70 L18.90,-5.50 L18.35,-6.27 L17.80,-7.01 L17.25,-7.69 L16.73,-8.30 L16.25,-8.82 L15.83,-9.23 L15.50,-9.54 L15.50,-9.54 L15.82,-8.92 L16.19,-8.06 L16.58,-7.02 L16.94,-5.84 L17.24,-4.61 L17.47,-3.37 L17.64,-2.18 L17.76,-1.12 L17.87,-0.15 L17.95,0.81 L18.02,1.74 L18.06,2.67 L18.08,3.59 L18.08,4.50 L18.06,5.42 L18.02,6.34 L17.95,7.28 L17.87,8.22 L17.78,9.17 L17.66,10.13 L17.51,11.08 L17.32,12.02 L17.10,12.94 L16.85,13.84 L16.56,14.70 L16.27,15.53 L15.95,16.34 L15.62,17.14 L15.26,17.92 L14.87,18.70 L14.45,19.47 L13.97,20.25 L13.45,21.03 L12.90,21.79 L12.31,22.55 L11.69,23.29 L11.03,24.01 L10.32,24.72 L9.57,25.40 L8.77,26.06 L7.89,26.71 L6.93,27.36 L5.90,27.97 L4.83,28.54 L3.75,29.05 L2.71,29.50 L1.72,29.88 L0.84,30.19 L0.06,30.45 L-0.65,30.67 L-1.30,30.85 L-1.88,31.01 L-2.39,31.14 L-2.83,31.25 L-3.21,31.34 L-3.52,31.40Z" fill="#0b4fb3"/>
<path d="M-37.11,16.21 L-36.68,16.98 L-36.08,17.99 L-35.33,19.16 L-34.46,20.43 L-33.47,21.71 L-32.42,22.95 L-31.34,24.08 L-30.28,25.05 L-29.24,25.90 L-28.17,26.68 L-27.06,27.39 L-25.94,28.04 L-24.80,28.62 L-23.65,29.15 L-22.49,29.60 L-21.32,30.00 L-20.16,30.32 L-19.03,30.57 L-17.91,30.75 L-16.79,30.88 L-15.66,30.96 L-14.51,30.99 L-13.33,30.97 L-12.11,30.91 L-10.88,30.78 L-9.67,30.57 L-8.46,30.30 L-7.24,29.97 L-6.02,29.59 L-4.77,29.17 L-3.49,28.71 L-2.17,28.22 L-0.79,27.67 L0.63,27.03 L2.06,26.32 L3.46,25.52 L4.80,24.66 L6.06,23.76 L7.21,22.83 L8.23,21.90 L9.17,20.98 L10.04,20.03 L10.84,19.08 L11.57,18.13 L12.23,17.19 L12.82,16.26 L13.34,15.35 L13.79,14.48 L14.21,13.62 L14.61,12.76 L14.97,11.91 L15.29,11.09 L15.55,10.34 L15.76,9.66 L15.91,9.10 L16.01,8.66 L16.01,8.66 L15.63,9.24 L15.08,10.00 L14.37,10.85 L13.53,11.75 L12.61,12.62 L11.65,13.45 L10.71,14.18 L9.85,14.83 L9.06,15.40 L8.28,15.95 L7.50,16.47 L6.72,16.97 L5.94,17.45 L5.14,17.91 L4.34,18.35 L3.51,18.77 L2.67,19.18 L1.82,19.59 L0.94,19.98 L0.06,20.36 L-0.84,20.70 L-1.75,21.01 L-2.66,21.28 L-3.56,21.51 L-4.45,21.69 L-5.32,21.85 L-6.18,21.99 L-7.03,22.10 L-7.89,22.18 L-8.75,22.23 L-9.64,22.25 L-10.55,22.22 L-11.48,22.16 L-12.42,22.07 L-13.37,21.94 L-14.32,21.77 L-15.28,21.56 L-16.24,21.30 L-17.21,20.99 L-18.19,20.63 L-19.19,20.19 L-20.23,19.68 L-21.27,19.09 L-22.30,18.45 L-23.28,17.77 L-24.19,17.09 L-25.01,16.43 L-25.72,15.82 L-26.34,15.28 L-26.89,14.77 L-27.37,14.30 L-27.80,13.88 L-28.16,13.51 L-28.48,13.18 L-28.74,12.89 L-28.96,12.65Z" fill="#5aade6"/>
<path d="M-32.60,-24.03 L-33.04,-23.27 L-33.62,-22.25 L-34.26,-21.02 L-34.92,-19.63 L-35.54,-18.13 L-36.08,-16.60 L-36.52,-15.10 L-36.84,-13.70 L-37.05,-12.37 L-37.18,-11.05 L-37.25,-9.74 L-37.25,-8.45 L-37.19,-7.17 L-37.06,-5.91 L-36.88,-4.67 L-36.64,-3.46 L-36.34,-2.30 L-35.99,-1.19 L-35.59,-0.13 L-35.14,0.90 L-34.64,1.92 L-34.09,2.93 L-33.49,3.94 L-32.83,4.96 L-32.10,5.96 L-31.31,6.91 L-30.47,7.83 L-29.57,8.71 L-28.63,9.58 L-27.64,10.46 L-26.61,11.33 L-25.52,12.23 L-24.36,13.15 L-23.10,14.06 L-21.76,14.94 L-20.37,15.76 L-18.96,16.49 L-17.55,17.13 L-16.17,17.66 L-14.85,18.08 L-13.58,18.43 L-12.33,18.71 L-11.11,18.93 L-9.92,19.08 L-8.77,19.18 L-7.67,19.23 L-6.63,19.23 L-5.65,19.19 L-4.69,19.12 L-3.74,19.03 L-2.83,18.92 L-1.96,18.79 L-1.18,18.64 L-0.49,18.48 L0.08,18.33 L0.51,18.19 L0.51,18.19 L-0.19,18.16 L-1.12,18.05 L-2.22,17.87 L-3.41,17.59 L-4.63,17.23 L-5.82,16.81 L-6.93,16.36 L-7.91,15.94 L-8.81,15.55 L-9.68,15.15 L-10.52,14.73 L-11.34,14.31 L-12.15,13.87 L-12.94,13.41 L-13.73,12.93 L-14.50,12.43 L-15.28,11.91 L-16.06,11.37 L-16.83,10.81 L-17.60,10.23 L-18.35,9.62 L-19.07,8.99 L-19.76,8.34 L-20.41,7.67 L-21.01,6.99 L-21.58,6.32 L-22.13,5.64 L-22.65,4.96 L-23.15,4.26 L-23.63,3.53 L-24.09,2.78 L-24.52,1.97 L-24.93,1.14 L-25.32,0.28 L-25.68,-0.61 L-26.01,-1.52 L-26.31,-2.45 L-26.57,-3.42 L-26.79,-4.41 L-26.96,-5.44 L-27.08,-6.52 L-27.15,-7.68 L-27.17,-8.88 L-27.13,-10.09 L-27.03,-11.28 L-26.90,-12.41 L-26.74,-13.45 L-26.57,-14.36 L-26.40,-15.17 L-26.23,-15.90 L-26.07,-16.55 L-25.92,-17.13 L-25.78,-17.64 L-25.65,-18.08 L-25.53,-18.45 L-25.43,-18.75Z" fill="#0b4fb3"/>
<path d="M-0.5,-9.6 A9.6,9.6 0 0 0 -0.5,9.6 Z" fill="#0b4fb3"/>
<circle cx="0" cy="0.2" r="9.6" fill="#5aade6" clip-path="url(#rh3)"/>
<polygon points="1.6,-9.4 3.7,-13.4 5.2,-8.2" fill="#5aade6"/>
<polygon points="-2.4,9.4 -4.7,13.2 -6.0,8.0" fill="#0b4fb3"/>
<polygon points="3.8,-13.6 -5.2,0.8 -1.2,0.8 -4.8,13.2 5,-1.6 0.8,-1.6" fill="#fff"/><text x="-76.5" y="71.4" font-family="Liberation Sans" font-weight="bold" font-size="26.7" stroke-width="0.9" fill="#0b4fb3" stroke="#0b4fb3" textLength="107.5" lengthAdjust="spacingAndGlyphs">CHESCO</text><text x="32.3" y="71.4" font-family="Liberation Sans" font-weight="bold" font-size="26.7" stroke-width="0.9" fill="#5aade6" stroke="#5aade6" textLength="44" lengthAdjust="spacingAndGlyphs">WX</text></svg>
</body></html>
